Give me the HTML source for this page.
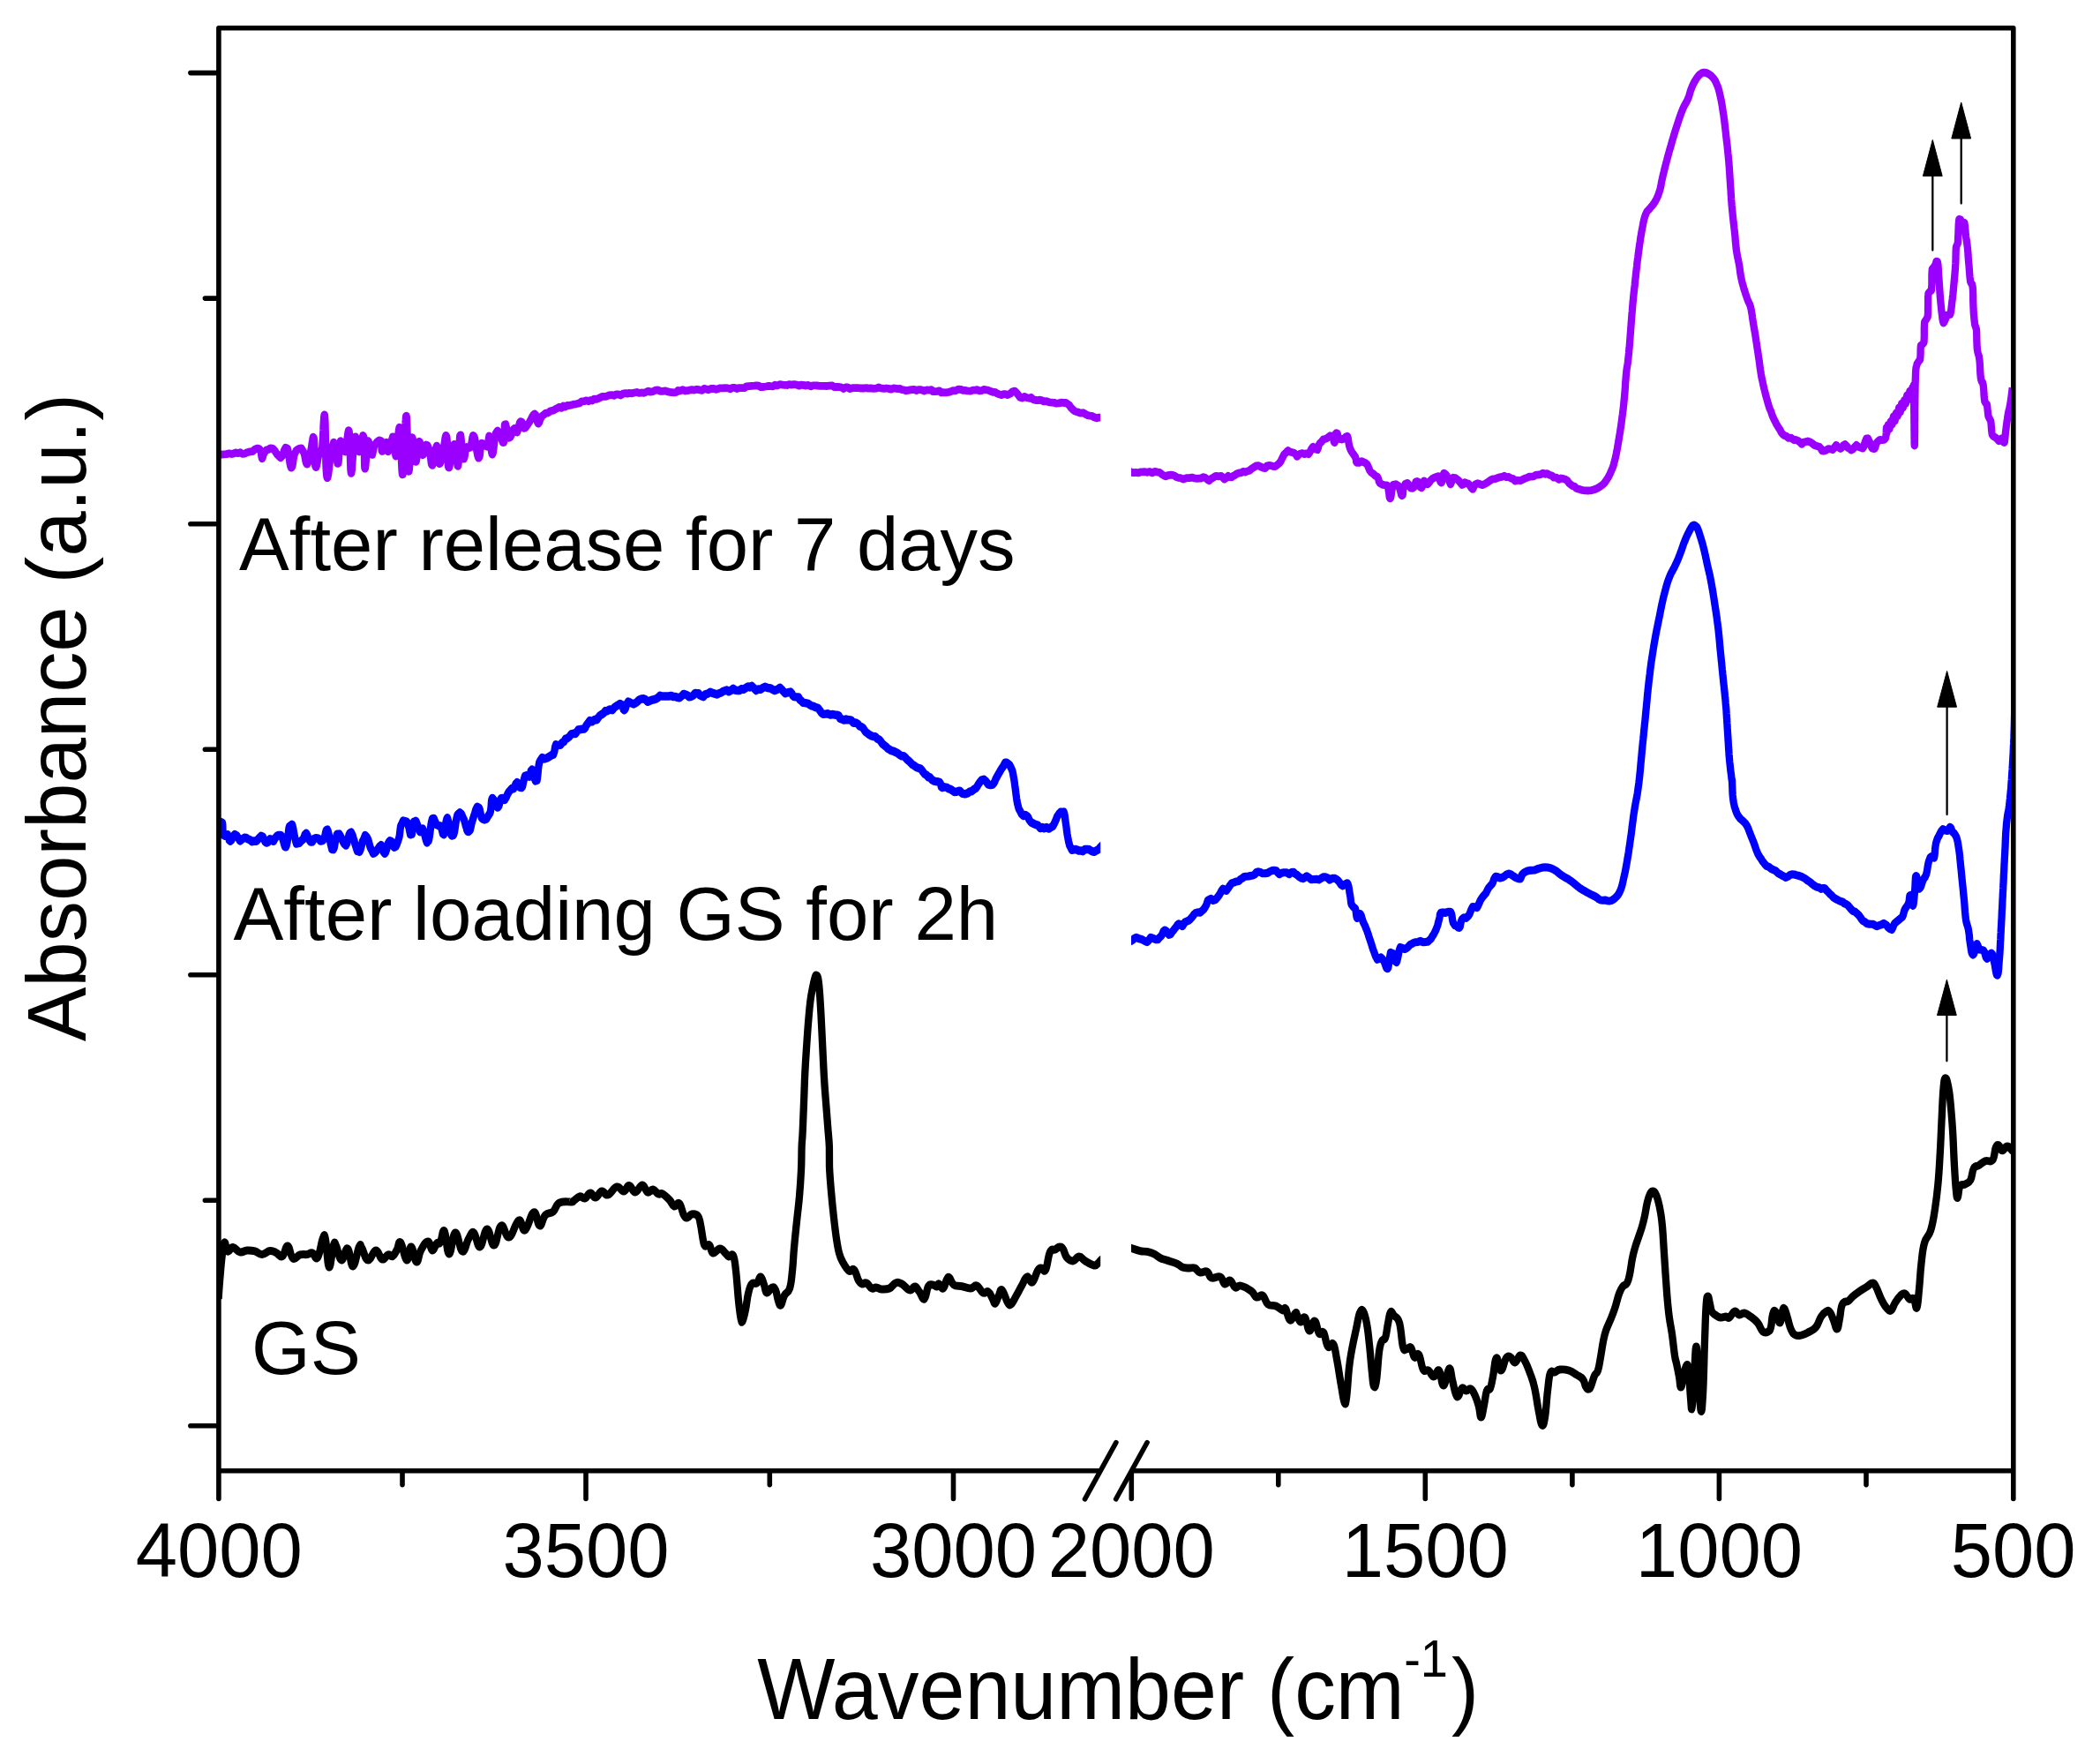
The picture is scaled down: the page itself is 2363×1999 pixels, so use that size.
<!DOCTYPE html>
<html><head><meta charset="utf-8"><title>FTIR spectra</title>
<style>html,body{margin:0;padding:0;background:#fff;overflow:hidden}svg{display:block}</style></head>
<body>
<svg width="2363" height="1999" viewBox="0 0 2363 1999">
<rect width="2363" height="1999" fill="#fff"/>
<defs><clipPath id="clipL"><rect x="247.9" y="31.7" width="999.3" height="1635.1"/></clipPath>
<clipPath id="clipR"><rect x="1282" y="31.7" width="999.8" height="1635.1"/></clipPath></defs>
<g clip-path="url(#clipL)"><path transform="scale(1,1.0602)" d="M248.0,485.08L249.6,485.55L251.4,485.93L253.5,485.64L256.3,485.46L260.0,484.70L262.5,485.27L265.0,484.70L267.4,483.76L269.8,484.51L272.3,483.66L274.7,485.17L277.3,484.98L280.0,483.57L283.3,482.81L286.1,482.63L288.4,480.65L290.4,479.70L292.2,479.23L294.0,479.80L295.6,482.06L296.1,485.17L296.4,487.81L297.0,490.27L297.8,488.57L298.4,485.93L300.0,483.29L302.0,480.93L304.0,480.55L306.3,479.04L309.0,479.23L311.1,481.31L312.9,484.04L314.5,486.21L316.1,487.53L318.0,489.23L319.8,487.53L321.2,483.85L322.4,480.65L323.6,478.48L325.0,478.85L325.8,479.32L326.5,481.78L327.0,484.70L327.5,487.81L328.0,491.11L328.4,494.23L328.9,496.87L329.4,498.75L330.0,500.07L330.8,499.60L331.5,497.53L332.0,494.70L332.5,491.02L333.2,487.53L334.0,484.98L335.7,481.68L337.2,480.36L339.0,479.42L341.6,479.14L344.0,483.19L344.9,485.36L345.5,488.00L346.1,491.02L346.6,493.47L347.2,495.36L348.0,496.30L348.8,495.17L349.4,494.13L350.0,491.96L350.6,488.95L351.3,486.12L352.0,483.00L352.8,479.32L353.4,475.36L354.0,471.78L354.5,468.67L355.0,467.06L355.6,467.91L355.8,469.04L356.0,470.84L356.2,473.10L356.3,475.74L356.4,478.66L356.5,481.87L356.6,485.08L356.7,488.19L356.8,491.21L356.9,493.76L357.1,496.11L357.3,498.00L357.6,498.85L358.2,499.60L358.8,498.00L359.4,495.45L360.0,492.06L360.7,488.57L361.3,485.36L362.0,482.53L363.6,482.91L365.0,479.32L365.3,476.87L365.5,474.14L365.7,470.93L366.0,467.35L366.2,463.57L366.4,459.80L366.5,456.03L366.7,452.54L366.9,449.52L367.1,446.79L367.3,444.90L367.5,443.67L367.8,443.20L368.0,444.24L368.1,445.09L368.2,446.41L368.3,447.92L368.4,449.80L368.5,451.88L368.6,454.24L368.6,456.78L368.7,459.52L368.8,462.35L368.8,465.37L368.9,468.38L368.9,471.59L369.0,474.80L369.0,478.00L369.1,481.21L369.1,484.42L369.2,487.53L369.3,490.55L369.3,493.47L369.4,496.21L369.5,498.85L369.6,501.21L369.8,503.38L369.9,505.26L370.1,506.96L370.2,508.37L370.4,509.41L370.8,510.92L371.3,510.45L371.7,508.75L372.2,506.58L372.6,503.38L373.1,499.89L373.5,495.83L374.0,492.06L374.5,487.91L375.0,484.51L375.5,481.40L376.0,479.32L378.2,472.63L380.0,475.74L380.5,476.87L380.8,479.61L381.2,482.63L381.4,485.83L381.7,488.95L382.0,491.87L382.3,494.23L382.6,495.55L383.0,495.55L383.4,495.45L383.6,493.57L383.9,490.93L384.1,488.00L384.3,484.61L384.6,481.21L384.8,478.00L385.1,475.17L385.5,472.82L386.0,471.31L387.0,472.25L387.9,474.99L388.8,478.95L389.8,482.25L391.0,482.81L391.7,481.49L392.2,478.85L392.8,475.08L393.3,471.21L393.7,467.54L394.2,464.05L394.6,461.59L395.1,459.99L395.6,460.93L395.8,462.35L396.0,463.95L396.2,466.12L396.4,468.67L396.5,471.40L396.6,474.61L396.7,477.82L396.8,481.21L396.8,484.70L396.9,488.10L397.0,491.40L397.1,494.51L397.2,497.34L397.3,499.98L397.4,502.15L397.6,503.75L397.8,505.17L398.0,505.92L398.3,505.64L398.5,504.32L398.8,502.72L399.0,500.36L399.2,497.43L399.4,494.23L399.7,490.83L399.9,487.25L400.1,483.66L400.4,480.08L400.7,476.78L401.0,473.67L401.3,471.21L401.6,469.14L402.0,467.54L402.9,466.69L403.7,469.80L404.4,473.76L405.2,478.10L406.0,481.31L407.0,483.00L407.9,481.97L408.7,478.76L409.4,474.89L410.1,470.74L410.8,467.54L411.4,465.37L412.0,466.40L412.3,466.97L412.5,468.95L412.6,471.50L412.8,474.33L412.8,477.53L412.9,480.93L412.9,484.42L413.0,487.81L413.0,491.11L413.1,494.04L413.1,496.59L413.2,498.66L413.4,500.26L413.6,501.02L413.9,500.83L414.1,499.32L414.4,497.15L414.6,494.42L414.9,491.21L415.1,487.81L415.4,484.32L415.6,480.83L415.9,477.63L416.3,474.80L416.6,473.01L417.0,471.21L417.7,471.78L418.4,474.04L419.0,477.53L419.5,481.78L420.2,485.27L421.0,485.93L421.9,486.12L422.5,483.95L423.1,480.93L423.8,477.72L425.0,475.08L427.5,472.25L429.9,470.55L432.0,471.31L432.4,473.48L432.5,476.21L432.5,479.23L432.6,481.59L433.0,482.44L434.1,481.87L435.4,478.10L436.8,475.17L438.0,472.72L438.7,475.08L438.9,478.66L439.2,482.06L440.0,482.72L440.8,481.68L441.6,478.95L442.5,475.65L443.4,472.06L444.3,469.52L445.1,466.87L446.0,466.87L446.6,468.20L447.0,470.18L447.3,473.10L447.6,476.68L447.8,480.08L448.0,483.38L448.2,485.93L448.6,487.62L449.0,487.34L449.4,486.49L449.7,484.32L450.0,481.49L450.4,478.00L450.7,474.04L451.0,470.18L451.3,466.40L451.6,462.82L451.9,460.08L452.3,457.91L452.6,456.69L453.0,457.16L453.2,458.29L453.4,459.99L453.6,462.06L453.8,464.61L454.0,467.44L454.1,470.74L454.3,474.14L454.4,477.72L454.6,481.40L454.7,485.08L454.8,488.76L455.0,492.34L455.1,495.64L455.3,498.75L455.4,501.49L455.6,503.75L455.8,505.55L456.0,507.05L456.2,507.34L456.4,506.96L456.6,507.05L456.8,505.92L456.9,504.32L457.1,502.53L457.3,500.36L457.4,497.81L457.6,495.08L457.7,492.06L457.9,488.95L458.0,485.55L458.2,482.06L458.3,478.66L458.5,475.08L458.6,471.59L458.8,468.01L458.9,464.71L459.0,461.40L459.2,458.29L459.3,455.37L459.5,452.73L459.6,450.46L459.8,448.39L459.9,446.69L460.1,445.37L460.2,444.71L460.4,445.09L460.6,444.43L460.7,445.09L460.9,446.41L461.0,448.01L461.1,450.09L461.2,452.44L461.3,455.18L461.4,458.20L461.5,461.31L461.6,464.71L461.6,468.20L461.7,471.69L461.8,475.27L461.8,478.85L461.9,482.44L462.0,485.83L462.1,489.04L462.2,492.06L462.3,494.89L462.4,497.43L462.5,499.60L462.7,501.40L462.8,502.72L463.0,503.75L463.3,503.94L463.5,503.38L463.8,502.06L464.0,499.79L464.3,497.15L464.5,493.85L464.8,490.27L465.0,486.59L465.3,482.72L465.5,479.23L465.8,475.84L466.1,472.82L466.4,470.36L466.7,468.57L467.0,467.54L467.4,468.01L467.8,469.23L468.2,471.59L468.5,474.70L468.8,478.19L469.2,481.78L469.5,485.46L469.8,488.76L470.2,491.30L470.6,493.47L471.0,493.38L471.5,493.66L472.0,491.87L472.4,488.95L472.8,485.55L473.2,481.97L473.6,478.29L474.0,475.17L474.5,472.63L475.0,471.78L475.8,472.44L476.4,474.70L477.0,478.19L477.6,482.15L478.2,485.08L479.0,486.30L479.9,485.83L480.7,483.47L481.3,479.89L482.1,476.78L483.0,475.46L484.5,476.02L485.7,478.85L487.0,483.00L487.6,485.74L488.1,488.95L488.4,492.15L488.8,495.17L489.3,496.77L490.0,497.43L490.6,495.83L491.3,493.28L491.9,490.36L492.5,486.87L493.1,483.38L493.7,480.27L494.4,477.91L495.0,476.40L495.6,478.19L496.1,480.46L496.4,483.76L496.7,487.53L497.0,491.02L497.4,493.85L498.0,495.74L498.8,495.45L499.6,493.38L500.3,490.45L501.1,486.68L502.0,483.10L502.7,479.89L503.3,476.21L503.9,472.53L504.4,469.14L504.9,466.59L505.4,465.37L506.0,466.31L506.3,466.97L506.5,468.76L506.7,471.02L506.9,473.57L507.0,476.50L507.1,479.70L507.2,482.91L507.3,486.12L507.5,489.23L507.6,492.15L507.8,494.79L507.9,497.06L508.1,498.66L508.4,499.79L508.9,499.89L509.4,499.13L509.8,496.49L510.3,492.91L510.8,489.32L511.4,485.64L512.0,483.10L513.4,477.72L514.7,474.80L516.0,475.46L516.5,477.06L516.9,479.80L517.2,483.19L517.5,486.87L517.7,490.55L518.0,493.85L518.3,496.40L518.6,497.81L519.0,498.28L519.3,497.06L519.5,495.36L519.7,492.81L519.9,489.89L520.0,486.59L520.2,483.00L520.3,479.51L520.5,475.93L520.7,472.72L520.9,469.89L521.1,467.44L521.3,465.65L521.6,464.99L522.0,464.99L522.3,466.59L522.6,469.33L522.9,472.53L523.2,476.12L523.5,479.89L523.8,483.47L524.2,486.59L524.6,488.95L525.0,490.64L525.7,490.55L526.4,488.76L527.0,485.74L527.5,482.34L528.2,479.04L529.0,477.72L531.0,478.85L533.0,478.38L533.8,477.25L534.4,474.14L534.9,470.84L535.4,467.63L536.1,465.46L537.0,466.03L537.6,467.16L538.2,468.95L538.7,471.78L539.2,474.61L539.7,478.10L540.2,481.21L540.8,484.23L541.3,486.78L541.8,488.38L542.4,489.70L543.1,488.85L543.6,487.62L544.0,484.70L544.3,481.31L544.7,478.19L545.2,475.08L546.0,473.67L548.0,474.33L550.0,476.50L552.0,477.34L552.9,475.36L553.5,472.06L553.9,468.67L554.4,465.93L555.0,466.59L555.4,467.44L555.8,469.89L556.1,473.19L556.4,476.68L556.7,480.17L557.1,483.00L557.5,485.08L558.0,485.83L558.5,484.70L558.9,483.10L559.3,480.65L559.7,477.44L560.1,474.33L560.5,470.84L561.0,467.91L561.5,465.08L562.0,462.91L563.9,460.27L566.0,464.14L567.4,466.21L568.7,469.89L569.9,473.10L571.0,472.91L571.4,471.12L571.6,468.57L571.7,465.46L571.7,462.06L571.8,458.76L571.8,455.84L572.0,453.86L572.4,453.58L573.0,453.48L573.7,455.93L574.3,459.33L575.1,463.20L576.0,465.93L577.0,468.10L578.3,467.35L579.5,465.18L580.7,462.16L581.8,458.95L583.0,457.91L584.7,460.18L586.0,462.25L586.8,460.08L587.6,457.54L588.3,454.24L589.1,451.41L590.0,450.56L591.3,451.03L592.4,454.80L594.0,457.73L595.5,457.25L596.8,455.46L598.3,453.39L600.0,451.12L601.7,448.39L603.2,445.37L604.5,443.39L606.0,442.35L607.1,443.30L607.8,446.12L608.5,448.77L609.1,451.22L610.0,452.82L611.1,451.60L612.0,448.86L614.0,444.99L616.2,443.39L618.5,441.50L621.0,441.41L624.0,439.24L626.7,438.67L628.7,437.82L630.9,436.60L634.0,435.09L636.4,436.03L638.6,433.86L640.7,434.90L642.8,433.30L645.2,433.39L648.0,432.83L650.7,432.07L653.0,431.79L655.0,431.32L657.0,430.75L659.3,429.05L662.0,428.86L664.7,428.02L667.0,428.96L669.0,427.83L671.0,428.30L673.3,426.41L676.0,426.70L678.7,425.66L680.9,424.62L682.8,423.77L684.8,423.87L687.1,423.77L690.0,422.55L693.1,422.17L695.8,422.83L698.3,421.51L700.8,421.60L703.3,422.55L706.0,420.85L709.2,420.28L711.2,420.85L713.0,420.09L716.0,420.47L719.0,419.72L721.7,419.24L724.3,420.09L727.0,419.72L730.0,420.00L733.0,418.77L735.0,418.02L737.0,418.96L740.0,418.49L743.0,416.98L745.7,416.89L748.3,418.21L751.0,418.11L754.0,417.74L757.1,418.77L759.3,419.06L761.3,419.34L764.0,419.53L766.6,419.15L768.5,417.26L770.7,417.92L774.0,416.51L776.7,417.83L779.1,417.55L781.5,416.98L784.0,416.60L786.8,416.98L790.0,416.13L793.1,416.79L795.7,417.17L798.0,415.38L800.3,415.94L802.9,416.70L806.0,415.38L809.1,415.47L811.7,416.23L814.0,415.57L816.3,414.81L818.9,415.00L822.0,414.72L825.1,414.91L827.8,415.75L830.2,414.34L832.5,414.53L835.0,415.47L838.0,414.62L841.3,414.62L843.9,414.72L846.1,412.92L848.7,412.74L852.0,412.45L855.0,412.36L857.5,412.08L859.8,412.36L862.2,413.68L864.9,413.59L868.0,413.11L871.1,412.55L873.7,412.83L876.0,413.02L878.3,411.51L880.9,412.17L884.0,410.94L887.1,411.32L889.7,411.51L892.0,411.70L894.3,410.94L896.9,411.42L900.0,410.94L903.1,411.42L905.6,412.36L907.8,411.32L910.1,411.60L912.7,412.26L916.0,411.60L918.9,413.02L921.5,411.98L923.9,412.08L926.1,412.17L928.5,412.45L931.1,412.55L934.0,412.55L937.4,412.64L940.4,412.26L943.0,411.98L945.4,413.59L947.7,413.59L950.0,413.59L953.2,413.87L956.0,415.47L958.4,414.06L960.7,413.96L963.1,415.57L966.1,414.72L970.0,414.72L972.6,414.62L975.0,415.00L977.3,414.91L979.5,415.00L981.8,414.62L984.3,415.09L987.0,414.91L990.0,415.28L993.0,415.19L995.6,414.06L997.9,414.72L1000.0,415.19L1002.1,415.38L1004.4,415.00L1007.0,415.38L1010.0,416.13L1013.0,415.00L1015.6,415.28L1017.9,415.57L1020.0,415.47L1022.1,416.51L1024.4,416.70L1027.0,417.64L1030.0,416.98L1033.1,416.51L1035.9,416.32L1038.4,417.36L1040.8,416.51L1043.1,416.51L1045.4,417.07L1047.6,417.83L1050.0,416.89L1053.6,416.98L1055.7,416.60L1057.3,418.49L1060.0,418.40L1062.5,418.21L1064.7,417.74L1066.7,419.72L1069.0,419.34L1072.0,419.53L1075.0,419.15L1077.6,418.49L1080.1,417.55L1082.8,417.74L1086.0,416.13L1089.1,416.41L1091.4,417.17L1093.6,417.26L1096.3,417.64L1100.0,417.92L1102.7,417.07L1105.3,417.07L1107.7,416.60L1110.2,417.74L1112.6,417.55L1115.0,416.32L1117.5,416.70L1120.0,417.17L1123.5,418.58L1125.8,419.15L1127.7,419.06L1129.6,420.28L1132.0,421.22L1135.0,422.17L1137.3,421.32L1139.5,421.32L1142.0,422.07L1145.1,420.66L1147.4,418.49L1150.0,417.92L1152.2,419.90L1153.8,421.89L1156.0,424.62L1158.6,425.37L1160.9,423.87L1164.0,425.19L1166.5,425.66L1168.7,424.90L1171.0,426.98L1174.0,427.73L1176.5,427.83L1178.7,427.36L1180.7,428.02L1183.0,429.05L1186.0,428.77L1189.2,430.00L1192.0,430.19L1194.6,430.37L1197.3,431.22L1200.0,430.94L1203.3,430.19L1205.3,430.56L1208.0,430.47L1210.1,431.88L1211.8,433.11L1213.5,435.37L1215.5,437.45L1218.0,439.43L1220.6,440.18L1222.9,440.94L1225.1,441.60L1227.4,441.13L1230.0,442.54L1233.1,444.05L1235.4,444.43L1237.6,444.71L1240.0,445.94L1242.9,446.88L1244.9,446.31L1247.0,446.22L1249.6,446.79L1251.0,447.73" fill="none" stroke="#9900ff" stroke-width="8.3" stroke-linejoin="round" stroke-linecap="butt"/></g>
<g clip-path="url(#clipR)"><path transform="scale(1,1.0602)" d="M1278.0,503.56L1279.3,503.19L1282.0,504.79L1284.4,505.17L1286.8,504.89L1290.0,505.45L1292.5,504.60L1294.5,504.41L1296.8,504.32L1300.0,504.89L1303.0,504.13L1305.9,505.45L1308.6,504.04L1311.3,504.51L1314.0,504.89L1317.2,507.24L1318.9,508.19L1321.0,509.22L1323.7,508.09L1327.0,507.62L1329.1,507.81L1331.2,508.47L1333.2,509.88L1335.5,510.64L1338.0,510.92L1340.9,512.15L1343.2,511.49L1345.4,510.83L1348.0,510.92L1350.9,510.36L1353.1,511.02L1356.0,511.49L1358.8,511.30L1361.3,511.30L1363.7,509.88L1366.0,510.73L1368.6,512.71L1370.4,513.75L1372.3,511.86L1375.0,510.54L1378.0,508.66L1381.1,509.22L1384.0,508.75L1386.2,510.64L1387.6,512.15L1389.8,510.73L1392.0,508.75L1393.7,509.88L1396.0,510.07L1397.7,508.75L1399.3,508.09L1401.3,506.68L1404.0,505.55L1406.5,505.45L1408.7,504.04L1411.0,504.60L1413.3,503.85L1416.0,503.00L1419.0,500.64L1421.3,499.41L1423.5,498.00L1426.0,497.72L1429.2,499.04L1431.6,499.98L1434.0,500.45L1435.8,498.09L1438.0,497.43L1440.3,497.62L1442.6,498.38L1445.1,498.66L1448.0,496.59L1449.9,494.98L1451.4,493.28L1452.7,490.74L1454.0,488.29L1455.4,485.64L1457.0,484.32L1459.7,481.49L1461.7,482.91L1464.0,483.47L1466.5,484.04L1468.5,485.64L1470.0,487.72L1470.0,487.91L1471.5,486.49L1473.5,484.98L1476.0,484.42L1478.5,485.36L1480.7,484.61L1483.0,485.46L1485.0,482.44L1486.3,479.80L1488.0,477.53L1490.7,479.89L1493.0,480.74L1494.0,478.38L1494.5,475.93L1496.0,473.67L1497.8,472.16L1499.8,469.61L1501.8,469.23L1504.0,468.29L1507.5,465.74L1510.0,466.03L1511.2,468.76L1511.8,472.06L1512.4,473.10L1512.9,472.16L1513.2,469.42L1513.4,466.31L1513.8,463.57L1514.4,462.82L1515.5,462.91L1516.5,466.21L1518.0,469.23L1520.5,469.80L1523.0,469.04L1525.2,466.97L1527.0,466.21L1527.7,468.29L1528.1,470.65L1528.5,473.38L1529.1,476.21L1530.0,479.14L1531.5,482.25L1533.1,484.51L1534.6,486.49L1536.0,488.47L1537.0,491.68L1537.2,493.76L1538.0,494.60L1540.2,494.60L1543.0,493.00L1545.1,493.85L1546.9,494.60L1549.0,495.83L1550.4,498.28L1551.4,500.74L1552.5,503.09L1554.0,504.98L1556.5,506.58L1558.8,508.66L1561.0,509.60L1562.3,511.96L1562.8,514.69L1564.0,516.58L1567.0,518.09L1570.0,518.56L1571.8,518.66L1573.0,520.64L1573.6,523.37L1574.1,526.58L1574.5,529.60L1574.9,532.05L1575.6,532.80L1576.2,531.77L1576.6,529.69L1577.0,526.67L1577.5,523.65L1578.1,520.92L1579.0,518.18L1582.0,517.52L1585.0,519.41L1586.1,521.77L1587.0,524.41L1587.7,527.24L1588.3,529.31L1589.0,529.79L1589.7,529.22L1590.0,526.48L1590.3,523.37L1591.0,520.54L1592.7,517.24L1595.0,516.39L1597.0,518.37L1598.9,521.77L1601.0,521.86L1602.5,520.73L1603.6,517.90L1604.6,515.07L1606.0,514.41L1607.5,515.17L1608.7,517.81L1609.8,520.73L1611.0,521.49L1612.2,519.60L1612.9,516.30L1614.0,514.03L1615.8,515.54L1618.0,517.62L1619.9,515.54L1621.8,513.00L1624.0,511.30L1627.2,509.98L1630.0,509.04L1631.5,511.96L1632.5,514.98L1633.6,516.01L1634.4,514.32L1634.9,511.30L1635.5,508.19L1636.4,505.73L1638.7,507.24L1641.0,510.45L1642.2,513.19L1643.0,515.64L1644.0,517.71L1644.9,515.54L1645.5,512.71L1647.0,510.54L1649.3,510.92L1651.7,512.52L1654.0,514.60L1655.8,516.67L1657.0,518.28L1658.3,517.71L1660.0,515.73L1662.0,516.39L1664.0,516.86L1666.0,519.13L1667.7,521.67L1669.0,522.90L1670.1,520.83L1672.0,517.62L1674.5,516.67L1677.1,517.43L1680.0,518.47L1683.2,517.15L1686.0,515.45L1687.9,514.22L1689.5,513.00L1692.0,512.05L1694.5,511.86L1696.8,511.02L1699.3,510.17L1702.0,509.79L1704.9,508.66L1707.1,509.88L1710.0,509.79L1712.7,511.30L1715.0,511.77L1717.3,514.13L1720.0,513.37L1722.9,513.85L1725.1,512.81L1728.0,511.39L1730.7,510.64L1733.0,509.51L1735.3,509.51L1738.0,509.13L1740.9,507.62L1743.1,507.62L1746.0,507.05L1748.7,505.64L1751.0,506.77L1753.3,506.11L1756.0,507.71L1758.9,508.37L1761.1,510.45L1764.0,510.45L1766.7,512.52L1769.0,511.20L1771.3,511.58L1774.0,512.34L1776.4,513.85L1778.2,516.39L1779.8,517.62L1782.0,519.32L1784.2,519.69L1786.0,521.49L1787.8,522.52L1790.0,522.90L1792.8,523.84L1795.2,524.22L1798.0,524.41L1800.8,524.41L1803.2,524.22L1806.0,523.47L1808.9,522.52L1811.3,521.39L1814.0,519.69L1816.3,518.09L1818.0,516.58L1820.0,514.03L1821.4,512.05L1822.6,510.26L1823.7,508.37L1824.8,506.21L1826.0,503.66L1827.1,501.30L1827.8,499.51L1828.5,497.81L1829.1,495.55L1830.0,492.34L1830.6,490.08L1831.1,488.00L1831.6,486.02L1832.0,483.95L1832.4,481.87L1832.9,479.51L1833.4,476.68L1834.0,473.48L1834.5,470.84L1834.9,468.38L1835.3,466.03L1835.7,463.86L1836.1,461.69L1836.4,459.42L1836.8,457.16L1837.2,454.71L1837.6,451.97L1838.0,448.95L1838.4,445.94L1838.8,443.39L1839.1,440.94L1839.4,438.77L1839.7,436.69L1839.9,434.62L1840.2,432.45L1840.4,430.00L1840.7,427.45L1841.0,424.43L1841.3,421.41L1841.5,418.77L1841.7,416.41L1841.9,414.15L1842.0,411.98L1842.1,409.91L1842.3,407.74L1842.5,405.38L1842.7,402.83L1843.0,399.91L1843.3,396.99L1843.6,394.63L1843.9,392.84L1844.2,391.23L1844.5,389.53L1844.8,387.55L1845.1,385.01L1845.5,381.71L1846.0,377.27L1846.2,374.91L1846.5,372.46L1846.7,370.10L1846.9,367.65L1847.1,365.20L1847.3,362.75L1847.5,360.30L1847.7,357.84L1847.9,355.39L1848.1,352.94L1848.3,350.39L1848.5,347.94L1848.7,345.39L1848.9,342.85L1849.1,340.39L1849.3,337.85L1849.5,335.30L1849.8,332.66L1850.0,330.11L1850.3,326.34L1850.6,323.23L1850.9,320.59L1851.1,318.42L1851.3,316.53L1851.5,314.74L1851.7,313.04L1851.9,311.34L1852.1,309.46L1852.4,307.29L1852.7,304.84L1853.0,301.82L1853.3,298.89L1853.7,296.16L1853.9,293.61L1854.2,291.16L1854.5,288.90L1854.8,286.63L1855.1,284.37L1855.3,282.11L1855.6,279.84L1855.9,277.48L1856.3,275.03L1856.6,272.49L1857.0,269.75L1857.5,266.35L1857.9,263.34L1858.3,260.70L1858.7,258.34L1859.0,256.17L1859.3,254.09L1859.7,252.11L1860.1,249.94L1860.5,247.68L1861.0,245.23L1861.7,241.83L1862.2,239.10L1862.7,236.74L1863.2,234.76L1863.7,232.97L1864.3,231.17L1865.0,229.19L1866.6,225.99L1868.1,224.57L1870.0,222.59L1871.6,220.70L1873.0,219.20L1874.4,217.50L1876.0,215.05L1877.3,212.78L1878.3,210.80L1879.2,208.82L1880.0,206.56L1881.0,203.73L1881.7,201.37L1882.2,199.48L1882.5,197.79L1882.8,195.90L1883.3,193.54L1884.0,190.52L1884.6,188.07L1885.2,185.71L1885.8,183.54L1886.3,181.37L1886.9,179.20L1887.5,176.94L1888.2,174.39L1889.0,171.66L1889.8,168.64L1890.5,166.28L1891.1,164.21L1891.7,162.13L1892.3,160.06L1893.1,157.70L1894.0,154.68L1894.8,151.95L1895.5,149.59L1896.2,147.42L1896.8,145.44L1897.5,143.36L1898.2,141.10L1899.0,138.65L1900.0,135.82L1901.0,132.89L1901.9,130.35L1902.7,127.99L1903.5,125.73L1904.3,123.65L1905.1,121.48L1906.0,119.31L1907.0,116.95L1908.5,113.75L1909.7,111.58L1910.8,109.88L1911.8,108.09L1913.0,105.64L1914.1,103.00L1914.8,100.83L1915.4,98.85L1916.0,96.77L1917.0,94.32L1918.3,91.39L1919.4,89.13L1920.6,87.15L1922.0,84.89L1923.8,82.34L1925.3,80.64L1927.0,79.23L1929.0,77.81L1931.0,77.53L1933.4,77.72L1936.0,78.85L1938.6,80.36L1941.0,82.62L1942.5,84.32L1943.6,85.92L1945.0,88.66L1945.9,90.64L1946.7,92.24L1947.3,94.04L1948.1,96.49L1949.0,99.98L1949.5,102.24L1950.0,104.32L1950.5,106.39L1950.9,108.37L1951.3,110.45L1951.7,112.71L1952.1,115.16L1952.5,117.80L1953.0,120.73L1953.5,123.65L1953.8,126.20L1954.2,128.37L1954.4,130.54L1954.7,132.61L1955.0,134.88L1955.3,137.33L1955.6,140.06L1956.0,143.36L1956.3,146.10L1956.6,148.65L1956.9,150.91L1957.2,153.08L1957.5,155.25L1957.7,157.32L1957.9,159.49L1958.2,161.76L1958.4,164.11L1958.7,166.85L1959.0,169.77L1959.3,172.70L1959.5,175.34L1959.7,177.70L1959.9,179.86L1960.0,181.94L1960.2,184.01L1960.3,186.09L1960.4,188.26L1960.6,190.62L1960.8,193.26L1961.0,196.18L1961.2,199.11L1961.4,201.75L1961.6,204.10L1961.7,206.27L1961.8,208.35L1962.0,210.42L1962.1,212.50L1962.3,214.67L1962.5,217.03L1962.7,219.67L1963.0,222.59L1963.3,225.61L1963.6,228.25L1963.8,230.80L1964.1,233.06L1964.4,235.32L1964.6,237.49L1964.9,239.66L1965.2,241.83L1965.4,244.00L1965.7,246.45L1966.0,249.00L1966.4,252.30L1966.6,255.04L1966.8,257.30L1967.0,259.38L1967.2,261.26L1967.4,263.15L1967.6,265.32L1968.0,267.86L1968.5,271.07L1969.0,273.52L1969.4,275.60L1969.9,277.58L1970.4,279.94L1971.0,282.95L1971.5,285.69L1971.8,287.95L1972.1,290.12L1972.4,292.20L1972.8,294.37L1973.3,296.91L1974.0,299.93L1974.7,302.76L1975.5,305.31L1976.2,307.67L1976.9,309.93L1977.7,312.19L1978.4,314.36L1979.2,316.53L1980.0,318.80L1981.3,322.10L1982.2,323.70L1983.0,325.21L1984.0,328.23L1984.6,330.59L1985.0,332.85L1985.4,335.02L1985.8,337.28L1986.1,339.64L1986.5,342.28L1987.0,345.20L1987.5,348.03L1987.9,350.39L1988.3,352.56L1988.7,354.54L1989.1,356.71L1989.5,359.16L1990.0,362.18L1990.4,364.82L1990.8,367.09L1991.1,369.07L1991.4,371.05L1991.7,373.03L1992.1,375.20L1992.5,377.84L1993.0,381.05L1993.4,383.69L1993.8,386.14L1994.1,388.40L1994.4,390.57L1994.7,392.74L1995.0,394.91L1995.4,397.17L1995.8,399.72L1996.3,402.46L1997.0,405.57L1997.7,408.49L1998.3,411.32L1999.0,413.96L1999.6,416.51L2000.3,418.96L2000.9,421.32L2001.5,423.58L2002.2,425.75L2002.8,427.92L2003.4,430.00L2004.0,431.98L2005.5,436.50L2006.1,437.73L2007.0,439.52L2007.9,442.07L2008.6,444.14L2010.0,447.07L2011.1,449.24L2012.2,451.22L2013.3,453.29L2014.6,455.37L2016.0,457.54L2017.6,459.90L2018.8,462.25L2020.1,463.86L2022.0,465.37L2024.7,466.40L2027.1,468.20L2030.0,468.01L2033.0,470.27L2035.5,470.18L2038.0,471.21L2040.3,472.82L2042.0,474.80L2043.8,472.82L2046.0,472.25L2048.8,471.59L2052.0,472.72L2054.2,474.14L2056.1,475.65L2058.0,476.40L2060.1,477.06L2062.0,477.53L2063.7,479.51L2065.2,481.97L2067.0,482.15L2069.5,481.31L2072.0,479.70L2074.6,479.89L2077.0,480.74L2079.0,478.48L2081.0,475.74L2083.4,478.19L2086.0,479.61L2087.7,478.19L2089.0,476.21L2091.0,474.99L2092.8,476.59L2094.4,478.66L2096.1,479.51L2098.0,481.02L2100.2,479.89L2101.8,477.91L2104.0,475.74L2106.6,477.72L2108.8,478.38L2111.0,479.23L2112.5,477.16L2113.1,474.33L2114.0,471.78L2115.3,468.76L2117.0,468.57L2118.1,470.93L2119.3,473.19L2120.4,476.68L2121.6,479.04L2123.0,479.61L2124.5,479.80L2125.6,477.06L2126.6,473.85L2128.0,471.97L2130.6,469.99L2133.0,470.27L2135.3,470.08L2137.0,468.10L2137.5,465.55L2137.7,462.91L2137.8,460.08L2137.9,457.82L2138.0,456.97L2138.1,457.73L2138.2,461.03L2138.4,462.82L2138.7,461.12L2139.1,458.39L2139.4,455.75L2139.9,454.05L2140.6,456.22L2141.4,458.67L2141.8,456.50L2142.2,453.76L2142.6,451.12L2143.0,450.18L2143.8,451.50L2144.5,453.76L2144.9,452.07L2145.2,449.43L2145.6,446.69L2146.0,444.99L2146.8,447.35L2147.6,449.90L2148.0,447.73L2148.4,445.09L2148.7,442.16L2149.1,441.22L2149.8,442.73L2150.6,444.80L2151.0,443.39L2151.4,440.75L2151.8,437.92L2152.2,435.66L2153.0,438.30L2153.7,440.56L2154.1,438.86L2154.4,436.03L2154.8,433.30L2155.2,431.32L2155.9,433.96L2156.7,435.94L2157.1,434.43L2157.5,431.79L2157.9,429.15L2158.3,427.64L2159.1,429.71L2159.8,431.51L2160.2,430.19L2160.5,427.26L2160.9,424.53L2161.3,422.36L2162.1,425.19L2162.9,427.07L2163.3,425.66L2163.7,422.92L2164.0,420.38L2164.4,418.02L2165.1,420.85L2165.9,423.58L2166.3,421.13L2166.7,418.49L2167.1,415.85L2167.5,414.06L2168.4,416.23L2169.0,418.40L2169.0,411.32L2169.0,413.68L2169.0,415.28L2169.0,417.26L2169.1,419.43L2169.1,421.89L2169.1,424.53L2169.1,427.45L2169.2,430.47L2169.2,433.58L2169.2,436.88L2169.2,440.18L2169.3,443.48L2169.3,446.79L2169.3,450.18L2169.4,453.39L2169.4,456.59L2169.4,459.61L2169.5,462.44L2169.5,465.18L2169.5,467.63L2169.6,469.89L2169.6,471.78L2169.6,473.48L2169.7,474.80L2169.7,475.74L2169.8,476.12L2169.8,476.31L2169.8,476.02L2169.9,475.36L2169.9,474.42L2169.9,473.19L2170.0,471.59L2170.0,469.80L2170.0,467.82L2170.0,465.55L2170.1,463.20L2170.1,460.56L2170.1,457.82L2170.1,454.90L2170.1,451.97L2170.2,448.86L2170.2,445.75L2170.2,442.54L2170.2,439.33L2170.2,436.13L2170.3,432.92L2170.3,429.71L2170.3,426.60L2170.4,423.58L2170.4,420.66L2170.5,417.83L2170.5,415.09L2170.6,412.55L2170.6,410.28L2170.7,408.11L2170.9,402.08L2171.1,397.83L2171.3,395.10L2171.5,393.31L2171.7,392.36L2172.0,391.42L2172.3,390.38L2172.7,388.78L2174.5,386.23L2176.1,384.25L2176.4,381.71L2176.5,379.25L2176.6,376.61L2176.6,374.07L2176.7,371.71L2177.0,369.26L2178.7,368.12L2180.4,366.24L2180.6,364.26L2180.7,361.90L2180.8,359.35L2180.8,356.62L2180.8,353.88L2180.8,351.05L2180.9,348.51L2181.0,345.96L2181.2,344.07L2182.9,341.62L2184.6,338.79L2184.8,337.00L2185.0,334.45L2185.0,331.81L2185.0,328.98L2185.1,326.15L2185.1,323.23L2185.1,320.49L2185.1,317.85L2185.3,315.49L2185.5,313.51L2187.2,311.53L2188.9,310.50L2189.1,308.14L2189.3,305.78L2189.4,303.14L2189.4,300.31L2189.4,297.48L2189.4,294.74L2189.5,292.10L2189.6,289.84L2189.8,287.67L2192.3,284.84L2193.5,282.58L2194.6,279.28L2195.7,279.65L2196.1,281.16L2196.4,282.95L2196.6,285.12L2196.8,287.58L2196.9,290.59L2197.1,293.80L2197.4,297.48L2197.6,300.12L2197.8,302.67L2198.0,304.93L2198.1,307.19L2198.3,309.36L2198.4,311.63L2198.6,313.99L2198.8,316.72L2199.1,319.83L2199.4,322.95L2199.7,325.96L2200.0,328.70L2200.3,331.43L2200.6,333.79L2200.9,336.15L2201.2,338.41L2201.4,340.39L2201.7,342.19L2202.5,345.20L2203.4,344.36L2204.4,342.09L2205.6,339.45L2206.8,336.81L2210.2,336.15L2210.7,334.26L2211.1,332.28L2211.4,330.21L2211.7,327.85L2212.0,325.40L2212.3,322.66L2212.7,319.83L2213.0,317.29L2213.3,315.02L2213.5,312.95L2213.7,311.16L2213.9,309.18L2214.1,306.72L2214.4,303.80L2214.7,301.16L2214.9,298.89L2215.1,296.63L2215.3,294.56L2215.5,292.48L2215.7,290.12L2215.9,287.58L2216.1,284.56L2216.3,281.73L2216.4,278.99L2216.5,276.45L2216.5,273.99L2216.6,271.64L2216.6,269.47L2216.7,267.39L2216.8,265.41L2217.0,263.81L2218.7,260.32L2218.9,258.53L2219.0,256.17L2219.1,253.72L2219.3,250.98L2219.4,248.15L2219.5,245.42L2219.6,242.68L2219.7,240.13L2219.9,237.78L2220.1,235.89L2220.4,234.19L2222.0,234.76L2223.8,239.66L2226.3,238.06L2226.7,240.04L2227.0,242.02L2227.2,244.38L2227.4,246.92L2227.7,249.66L2228.0,252.40L2228.4,255.04L2228.7,256.92L2229.0,258.43L2229.3,260.41L2229.7,263.62L2230.0,265.98L2230.2,268.24L2230.4,270.60L2230.5,272.77L2230.7,275.03L2230.9,277.58L2231.1,280.12L2231.4,282.95L2231.7,286.16L2231.9,288.99L2232.1,291.63L2232.3,293.99L2232.5,296.16L2232.8,298.42L2233.1,300.78L2234.0,302.86L2234.9,303.42L2235.7,307.01L2235.9,309.08L2236.0,311.34L2236.1,313.70L2236.2,316.06L2236.2,318.61L2236.2,321.15L2236.3,323.89L2236.4,326.62L2236.5,329.45L2236.7,332.85L2236.9,335.96L2237.2,338.51L2237.4,340.87L2237.6,342.94L2237.9,345.02L2238.2,347.28L2239.1,349.45L2239.9,352.00L2240.1,353.79L2240.2,355.96L2240.2,358.22L2240.3,360.58L2240.3,363.03L2240.4,365.48L2240.5,367.94L2240.6,370.39L2240.8,372.84L2241.3,375.86L2241.7,377.46L2242.2,378.97L2242.8,380.67L2243.3,383.97L2243.6,386.33L2243.8,388.78L2243.9,391.14L2244.1,393.59L2244.2,396.04L2244.3,398.40L2244.5,400.66L2244.7,402.83L2245.0,405.00L2245.9,407.83L2246.7,408.30L2247.6,411.13L2247.9,413.68L2248.2,416.32L2248.4,419.06L2248.5,421.79L2248.7,424.43L2249.0,426.88L2249.3,428.96L2250.6,431.22L2251.8,432.07L2252.2,434.43L2252.5,437.16L2252.8,439.90L2253.1,442.64L2253.5,445.09L2254.8,447.54L2256.1,449.80L2256.5,452.07L2256.7,454.61L2256.9,457.16L2257.1,459.61L2257.4,462.25L2257.8,464.52L2259.3,466.50L2261.2,467.35L2263.3,468.95L2265.5,471.40L2268.9,468.38L2270.3,472.35L2271.4,473.01L2271.8,472.63L2272.1,470.55L2272.4,467.91L2272.7,464.71L2273.1,461.03L2273.5,458.39L2273.8,455.65L2274.2,453.20L2274.5,450.75L2274.9,448.48L2275.3,445.84L2275.7,443.39L2276.3,440.47L2276.7,438.67L2277.2,437.16L2277.6,435.00L2278.2,432.07L2278.7,429.43L2279.1,426.60L2279.5,423.87L2279.9,421.04L2280.2,418.68L2280.5,416.41L2280.8,414.53" fill="none" stroke="#9900ff" stroke-width="8.3" stroke-linejoin="round" stroke-linecap="butt"/></g>
<g clip-path="url(#clipL)"><path transform="scale(1,1.1446)" d="M249.0,813.31L252.0,814.54L252.3,816.20L252.4,818.90L252.5,821.70L252.6,824.41L253.0,826.68L255.3,827.64L258.0,826.33L259.2,829.39L259.8,831.75L261.0,832.71L262.5,831.49L264.0,828.51L266.0,826.16L268.1,827.12L269.9,829.48L272.0,832.53L274.1,830.96L277.0,829.39L279.1,829.56L281.2,830.87L283.3,831.49L285.6,833.23L288.0,832.53L290.6,832.80L292.4,830.96L294.0,829.30L296.0,827.55L297.9,828.43L299.3,830.96L300.6,833.49L302.0,834.37L304.2,833.49L306.0,830.70L307.7,831.22L310.0,832.80L311.9,829.74L313.8,827.73L315.8,826.85L318.0,826.85L319.3,827.82L320.4,830.52L321.3,833.32L322.2,836.20L323.0,838.47L324.0,838.56L324.7,836.99L325.2,835.07L325.7,833.06L326.1,830.26L326.4,827.47L326.8,824.76L327.1,822.05L327.5,819.60L328.0,818.21L331.0,816.28L331.6,817.94L332.2,819.95L332.7,822.49L333.3,825.37L333.8,827.90L334.5,830.44L335.2,833.06L336.0,835.24L339.0,834.72L342.0,831.92L343.5,831.14L344.6,828.78L345.6,826.16L347.0,825.02L348.4,827.03L349.4,829.65L350.5,831.57L352.0,833.41L353.9,833.41L355.6,830.61L358.0,829.74L360.8,830.17L363.3,832.62L366.0,832.01L367.4,830.26L368.3,827.55L369.0,824.32L369.8,821.79L371.0,821.35L371.8,823.19L372.4,825.11L373.1,827.90L373.7,830.61L374.3,833.49L374.9,836.20L375.6,838.65L376.2,840.83L377.0,840.57L377.9,840.92L378.7,839.44L379.3,836.81L379.9,833.67L380.5,830.87L381.2,828.25L382.0,825.89L384.5,825.72L387.0,829.56L388.7,833.15L390.1,835.33L392.0,836.99L393.1,835.24L393.9,832.62L394.8,829.39L395.6,826.33L396.7,824.58L398.0,824.06L399.0,825.98L399.9,827.73L400.7,830.17L401.6,832.71L402.4,835.68L403.3,838.21L404.1,840.40L405.0,842.67L406.0,842.58L407.3,843.45L408.4,841.45L409.3,838.91L410.2,835.42L411.0,832.62L412.0,831.40L413.9,826.94L416.0,829.04L417.0,830.87L417.8,832.97L418.7,835.85L419.5,838.56L420.5,840.57L421.6,842.14L423.0,845.03L425.5,843.72L427.7,841.18L429.9,838.30L432.0,836.64L433.8,840.13L434.6,843.45L436.0,845.03L437.0,843.98L438.0,841.18L438.9,838.65L439.9,835.07L440.9,833.41L442.0,832.36L443.5,833.06L444.6,834.46L445.6,837.60L447.0,838.91L448.5,838.04L449.7,836.03L450.8,833.23L452.0,830.26L452.7,827.73L453.1,825.02L453.4,822.66L453.7,820.21L454.2,817.68L455.0,816.28L456.9,812.53L458.8,812.96L461.0,813.66L462.1,814.89L462.9,817.59L463.7,820.65L464.4,823.45L465.1,826.33L466.0,825.81L466.8,825.81L467.4,822.84L467.9,819.69L468.4,816.46L469.1,813.66L470.0,813.66L471.3,812.79L472.5,815.41L473.7,818.12L474.8,820.74L476.0,823.53L477.5,821.18L479.0,820.39L480.0,822.49L480.9,825.02L481.8,828.25L482.8,831.66L483.9,834.28L485.0,832.45L485.7,832.45L486.2,830.96L486.7,828.51L487.2,825.81L487.6,822.75L488.0,819.87L488.4,816.72L488.9,814.27L489.4,812.44L490.0,810.52L491.8,810.34L493.3,813.84L495.0,816.63L497.1,817.51L499.0,817.77L500.1,818.99L501.0,822.31L501.9,825.46L503.0,826.24L503.7,824.58L504.2,822.05L504.6,819.17L505.1,816.11L505.6,813.31L506.2,811.13L507.0,809.73L507.8,812.09L508.5,814.10L509.2,817.07L509.8,820.04L510.5,823.53L511.3,826.42L512.1,827.38L513.0,827.03L513.7,827.03L514.4,825.63L515.0,823.71L515.5,821.09L516.0,818.12L516.5,814.97L517.0,812.18L517.6,809.56L518.3,807.02L519.0,806.24L521.1,804.58L522.9,805.80L525.0,809.99L526.0,811.65L526.9,814.27L527.7,817.24L528.5,819.17L529.2,821.79L530.1,823.19L531.0,823.36L532.0,822.66L532.8,821.79L533.5,819.34L534.2,816.46L535.0,813.57L536.0,810.95L537.1,807.63L538.1,805.36L539.0,802.22L539.9,800.47L540.9,798.81L542.0,799.51L543.0,799.86L543.7,801.52L544.3,803.96L545.0,806.85L545.8,809.73L547.0,810.78L549.1,811.57L551.2,810.78L553.1,807.98L555.0,805.45L555.8,803.70L556.3,800.91L556.6,798.37L556.8,795.66L557.0,793.31L557.3,791.73L558.0,790.16L559.5,791.65L560.9,794.88L562.4,797.32L564.0,799.42L565.1,798.37L565.8,796.71L566.5,794.09L567.1,791.73L568.0,790.42L569.8,790.33L572.0,791.91L573.2,790.16L574.4,787.98L575.6,785.62L576.8,783.87L578.0,782.73L580.2,780.55L582.0,780.81L583.4,778.45L584.5,776.09L586.0,774.70L587.7,775.92L589.3,779.59L591.0,779.76L592.0,779.06L592.7,776.27L593.3,773.73L594.0,771.29L595.0,768.23L597.6,767.53L600.0,769.02L601.2,765.70L601.8,763.08L603.0,761.94L604.0,764.74L604.9,767.36L605.9,771.03L606.9,773.12L608.0,772.51L608.6,772.51L609.0,770.59L609.3,768.32L609.6,765.70L609.9,762.99L610.2,760.28L610.7,757.31L611.2,754.95L612.0,753.47L614.5,750.06L617.1,751.28L620.0,750.49L622.8,749.01L624.9,747.79L627.0,747.17L628.1,744.73L628.7,742.02L629.1,739.57L630.0,737.30L632.4,737.91L635.0,737.65L636.9,735.47L639.0,734.42L640.9,731.45L642.7,731.10L645.0,729.61L647.5,726.82L649.7,726.29L652.0,726.47L654.0,724.28L655.3,722.54L657.0,722.27L659.6,721.93L662.0,721.66L663.3,720.61L664.2,718.43L666.0,716.42L668.5,713.36L671.0,714.50L674.0,712.49L676.3,712.66L678.2,710.22L680.0,708.30L682.0,707.33L684.3,705.94L686.0,703.84L688.0,704.01L691.0,702.44L694.0,703.05L696.2,700.52L698.0,699.38L700.0,698.34L702.8,696.76L705.0,697.81L706.1,700.35L706.6,702.44L707.6,703.05L708.6,701.92L709.5,699.38L710.6,696.76L712.0,694.67L714.6,695.80L718.0,697.11L720.3,696.06L722.4,694.58L724.6,692.74L727.0,691.96L729.6,691.78L731.5,692.57L734.0,694.84L736.8,693.71L739.3,692.92L742.0,692.39L744.1,691.70L745.6,690.82L748.0,688.64L750.4,689.34L752.5,689.42L754.9,689.34L758.0,689.34L760.7,688.81L763.1,689.86L765.4,689.69L767.6,690.47L770.0,690.82L773.0,688.81L774.8,687.07L777.0,687.59L779.2,688.55L780.8,689.95L783.0,689.77L785.5,688.64L787.7,686.28L790.0,686.54L791.9,686.54L793.1,688.29L795.0,689.07L797.2,689.86L799.3,687.50L802.0,686.89L804.9,685.14L807.4,686.10L810.0,686.80L812.7,687.50L815.0,686.45L817.1,685.84L818.9,684.79L821.0,684.01L823.6,683.13L826.0,684.79L828.5,683.57L831.0,681.74L833.2,683.22L836.0,683.75L838.2,683.75L840.3,682.09L842.6,682.52L845.0,681.21L847.8,679.64L849.8,680.51L852.0,679.20L854.0,680.86L857.0,683.66L859.4,682.26L862.0,682.70L864.6,680.95L867.3,679.99L870.0,681.04L873.4,681.47L875.6,682.70L878.0,683.66L881.2,682.61L884.0,680.86L886.1,682.61L887.9,684.62L890.0,686.54L893.2,685.58L896.0,684.97L897.6,686.80L898.6,688.81L900.0,689.77L902.4,690.12L905.0,690.21L906.7,692.92L908.1,693.71L910.0,695.63L912.9,695.98L916.0,696.59L918.2,698.07L920.0,698.86L922.0,699.30L924.5,700.43L927.0,701.04L929.1,703.23L930.9,705.67L933.0,707.07L935.5,706.90L938.0,706.64L941.0,707.68L944.0,707.25L946.6,707.86L949.0,707.95L950.6,708.38L951.9,711.27L954.0,711.88L956.6,712.93L959.0,712.05L962.0,712.75L964.8,713.19L967.2,715.72L970.0,715.63L972.3,716.77L974.2,718.87L976.0,719.57L978.0,720.53L979.9,723.15L981.0,724.55L983.0,725.94L985.2,727.43L987.3,728.48L989.5,729.00L992.0,729.26L994.4,731.45L996.2,732.06L998.0,733.81L1000.0,736.34L1002.3,738.00L1004.0,739.14L1006.0,740.97L1008.0,741.93L1009.7,742.98L1012.0,743.51L1014.7,744.55L1017.1,745.51L1020.0,747.61L1022.2,748.57L1024.0,748.49L1025.8,749.71L1028.0,751.98L1030.3,753.55L1032.1,755.13L1033.9,756.87L1036.0,757.92L1038.7,759.67L1040.8,760.45L1043.0,760.89L1044.8,762.46L1046.0,764.12L1048.0,766.40L1050.1,767.36L1052.1,769.54L1054.0,769.54L1056.0,771.90L1058.2,773.12L1060.0,773.65L1062.6,773.82L1065.0,774.61L1066.2,776.44L1066.8,779.15L1068.0,779.76L1070.3,779.15L1073.0,779.59L1075.1,780.99L1076.9,781.25L1079.0,782.38L1081.7,784.04L1084.0,783.87L1086.0,783.26L1088.0,783.00L1090.3,785.44L1093.0,786.05L1095.0,785.79L1096.7,785.35L1099.0,783.78L1101.5,783.26L1103.8,781.51L1106.0,780.37L1107.7,778.37L1108.6,776.79L1110.0,774.96L1112.4,772.42L1115.0,771.64L1117.5,773.65L1120.0,776.62L1122.5,777.23L1125.0,776.71L1126.3,775.31L1127.3,773.91L1128.4,771.38L1130.0,768.75L1131.5,766.40L1132.9,764.39L1134.3,762.20L1135.6,760.37L1137.0,758.79L1139.2,755.13L1141.0,755.13L1142.8,756.35L1144.4,757.57L1146.0,760.37L1146.9,762.20L1147.5,763.69L1148.0,765.78L1148.4,767.88L1149.0,770.50L1149.5,773.12L1149.9,775.57L1150.2,777.75L1150.6,780.11L1151.0,782.82L1151.4,785.79L1151.8,788.24L1152.1,790.42L1152.5,792.69L1153.0,795.14L1153.7,797.50L1154.3,799.68L1155.0,801.26L1156.0,802.74L1157.9,806.06L1160.0,807.72L1161.9,806.76L1164.0,807.98L1165.3,809.21L1166.4,811.57L1167.6,813.14L1169.0,814.36L1171.5,815.50L1174.0,816.37L1176.3,817.16L1179.0,819.95L1181.4,818.99L1183.6,820.21L1186.0,819.08L1188.7,820.39L1191.0,819.17L1193.2,818.03L1195.0,815.06L1196.1,812.96L1196.9,811.39L1198.0,808.59L1200.0,805.97L1202.0,804.05L1205.6,803.88L1206.3,805.62L1206.7,807.55L1207.1,810.17L1207.5,813.05L1208.0,815.85L1208.5,818.90L1208.8,821.09L1209.1,823.19L1209.5,825.63L1210.0,828.25L1210.6,830.96L1211.1,833.32L1211.6,834.98L1212.2,837.08L1213.0,838.39L1214.9,841.62L1217.0,841.27L1219.0,840.92L1221.0,841.45L1222.8,842.32L1225.0,842.32L1227.3,842.76L1229.6,840.83L1232.0,840.83L1234.6,841.18L1237.0,842.49L1240.1,843.37L1243.0,841.88L1245.2,840.92L1247.0,838.82L1249.3,836.90L1251.0,835.68" fill="none" stroke="#0000ff" stroke-width="8.3" stroke-linejoin="round" stroke-linecap="butt"/></g>
<g clip-path="url(#clipR)"><path transform="scale(1,1.0964)" d="M1278.0,974.84L1279.5,973.38L1282.0,972.56L1283.9,971.46L1285.8,969.73L1288.0,968.91L1291.0,970.19L1294.0,970.92L1297.2,972.56L1300.0,973.75L1302.0,971.74L1304.0,969.00L1306.8,969.91L1310.0,971.01L1312.2,971.19L1314.1,969.00L1316.0,967.45L1317.6,964.99L1318.6,962.44L1320.0,961.34L1321.7,962.07L1323.2,964.53L1325.0,966.27L1326.7,965.54L1328.1,963.53L1330.0,961.61L1331.6,959.52L1333.1,957.87L1334.5,955.78L1336.0,954.77L1338.2,955.78L1340.0,957.42L1341.4,955.32L1343.0,953.13L1345.2,952.22L1348.0,951.03L1349.8,949.12L1351.5,947.48L1353.2,945.20L1355.0,943.65L1357.6,942.92L1360.0,943.37L1362.1,941.55L1364.0,940.09L1366.0,937.35L1367.3,935.25L1368.1,932.88L1368.9,930.69L1370.0,929.96L1372.4,928.87L1375.0,930.79L1377.4,930.06L1380.0,927.23L1381.6,925.31L1383.1,923.03L1384.5,920.57L1386.0,918.56L1388.0,919.57L1390.0,920.57L1391.4,918.75L1392.7,917.01L1394.1,915.01L1396.0,912.91L1398.7,912.09L1401.1,911.08L1404.0,910.63L1406.2,908.53L1408.0,907.80L1409.8,906.16L1412.0,905.89L1414.9,905.70L1417.3,905.25L1420.0,904.88L1422.2,903.61L1423.8,901.69L1426.0,900.96L1428.6,901.60L1430.9,902.78L1434.0,902.78L1436.7,902.24L1439.2,900.78L1441.5,899.87L1444.0,899.59L1446.6,899.96L1448.2,902.05L1450.0,903.51L1452.5,902.24L1455.0,901.87L1458.0,901.78L1461.0,903.61L1463.7,901.69L1466.0,901.33L1467.8,903.15L1470.0,904.24L1472.3,906.16L1474.7,907.53L1477.0,908.17L1479.2,906.80L1481.0,905.52L1483.3,906.89L1486.0,908.99L1488.6,908.90L1492.0,908.71L1494.6,909.26L1497.1,907.98L1499.6,906.52L1502.0,906.52L1504.8,907.35L1507.0,909.35L1510.0,907.71L1513.0,907.89L1514.9,908.90L1516.4,910.08L1518.0,911.91L1520.0,914.55L1522.0,915.55L1524.6,913.82L1527.0,912.73L1527.9,914.64L1528.5,916.56L1529.0,919.02L1529.4,921.94L1530.0,924.95L1530.5,927.59L1530.8,929.96L1531.0,932.06L1531.4,934.07L1532.0,935.44L1534.0,937.72L1536.0,939.09L1536.7,941.82L1537.0,944.56L1537.4,947.02L1538.0,948.85L1539.7,947.20L1541.6,944.56L1542.5,945.84L1543.3,948.30L1544.0,950.58L1545.0,953.13L1546.1,955.14L1547.0,956.69L1547.9,959.06L1549.0,961.34L1549.9,963.80L1550.7,965.72L1551.3,967.73L1552.1,969.82L1553.0,972.19L1553.9,974.75L1554.7,976.94L1555.3,979.04L1556.1,981.13L1557.0,983.32L1558.1,986.15L1559.0,988.34L1559.9,989.89L1561.0,991.71L1563.0,990.98L1565.0,989.62L1567.0,991.35L1569.0,994.45L1570.3,997.82L1571.4,1000.74L1572.6,1001.20L1573.2,1000.20L1573.7,998.01L1574.1,995.18L1574.6,992.35L1575.0,989.43L1575.5,986.97L1576.0,984.42L1579.0,985.69L1579.9,988.06L1580.7,991.44L1581.5,993.81L1582.6,994.72L1583.4,992.90L1584.1,990.35L1584.7,987.34L1585.3,984.23L1586.1,981.41L1587.0,979.13L1589.4,979.86L1592.0,981.13L1594.0,980.22L1595.8,978.85L1598.0,976.57L1600.1,975.57L1601.9,974.57L1604.0,973.84L1607.0,973.56L1610.0,972.65L1613.0,973.84L1616.0,973.56L1618.1,973.47L1619.9,971.74L1622.0,970.01L1623.4,967.63L1624.7,965.99L1625.8,963.99L1626.9,962.07L1628.0,959.61L1629.1,956.87L1629.8,954.59L1630.3,952.58L1631.0,950.49L1631.7,947.29L1632.0,945.11L1633.0,943.28L1635.2,943.01L1638.0,943.46L1641.2,942.37L1644.0,942.37L1644.9,944.19L1645.5,946.47L1645.9,949.12L1646.3,951.67L1647.0,953.86L1649.0,956.60L1651.0,956.96L1652.6,958.60L1654.0,958.97L1654.7,957.87L1655.2,955.50L1655.8,952.77L1657.0,949.94L1659.2,948.48L1661.5,948.85L1664.0,946.93L1665.6,944.65L1666.7,941.73L1667.7,939.63L1669.0,937.26L1671.5,937.35L1674.0,938.17L1675.4,935.62L1676.5,933.43L1677.6,930.79L1679.0,928.78L1680.9,926.41L1682.4,924.86L1684.0,923.31L1685.2,920.94L1685.9,919.57L1687.0,917.83L1688.9,915.74L1691.0,913.73L1692.1,911.72L1692.9,909.35L1693.8,907.44L1695.0,905.89L1697.4,906.43L1700.0,907.53L1702.5,906.98L1705.0,905.70L1707.3,903.88L1710.0,902.97L1712.3,903.70L1714.5,905.16L1717.0,906.62L1720.4,908.17L1723.0,908.44L1724.0,906.62L1725.0,903.88L1726.7,902.33L1728.5,901.23L1731.0,900.23L1733.7,899.68L1736.2,899.59L1739.0,899.32L1741.5,898.59L1743.5,897.77L1746.0,897.13L1748.7,896.58L1751.1,896.40L1754.0,896.58L1756.8,897.13L1759.2,897.95L1762.0,899.32L1764.2,900.60L1765.8,901.87L1767.6,903.15L1770.0,904.79L1772.6,906.25L1774.8,907.35L1777.2,908.53L1780.0,910.26L1782.3,911.81L1784.1,913.27L1785.9,914.55L1787.7,916.01L1790.0,917.56L1792.8,919.29L1795.2,920.57L1797.4,921.76L1800.0,923.03L1803.1,924.49L1805.4,925.50L1808.0,926.68L1810.4,928.14L1812.1,929.42L1814.0,930.33L1816.6,930.51L1819.0,930.33L1821.4,930.97L1824.0,931.24L1826.0,930.88L1827.8,930.06L1830.0,928.51L1831.7,927.05L1833.2,925.68L1834.5,923.85L1836.0,921.21L1836.9,919.20L1837.6,917.47L1838.2,915.74L1838.7,913.73L1839.3,911.45L1840.0,908.44L1840.6,906.07L1841.1,904.06L1841.6,902.15L1842.0,900.23L1842.4,898.22L1842.9,895.94L1843.4,893.30L1844.0,890.20L1844.5,887.64L1844.9,885.27L1845.3,883.17L1845.7,881.08L1846.0,879.07L1846.3,876.97L1846.7,874.78L1847.1,872.32L1847.5,869.58L1848.0,866.48L1848.4,863.84L1848.8,861.47L1849.1,859.19L1849.4,857.09L1849.6,855.08L1849.9,853.08L1850.2,851.07L1850.5,849.06L1850.8,846.87L1851.1,844.50L1851.5,841.95L1852.0,839.12L1852.5,836.38L1852.9,833.92L1853.3,831.82L1853.7,829.82L1854.1,827.99L1854.5,826.17L1854.9,824.35L1855.3,822.34L1855.7,820.24L1856.1,817.78L1856.5,814.95L1857.0,811.76L1857.4,809.11L1857.7,806.56L1858.0,804.19L1858.3,801.91L1858.5,799.63L1858.8,797.53L1859.0,795.34L1859.2,793.15L1859.4,790.96L1859.6,788.68L1859.9,786.31L1860.1,783.85L1860.4,781.20L1860.7,778.28L1861.0,775.27L1861.3,772.26L1861.6,769.44L1861.9,766.88L1862.2,764.51L1862.4,762.32L1862.7,760.13L1862.9,758.04L1863.1,756.03L1863.3,753.93L1863.6,751.74L1863.8,749.55L1864.1,747.18L1864.4,744.63L1864.7,741.80L1865.0,738.79L1865.3,735.78L1865.6,732.95L1865.9,730.40L1866.1,727.94L1866.4,725.66L1866.6,723.47L1866.8,721.28L1867.0,719.18L1867.2,717.08L1867.5,714.89L1867.7,712.71L1868.0,710.33L1868.3,707.87L1868.6,705.23L1869.0,702.31L1869.4,699.21L1869.8,696.47L1870.1,693.92L1870.4,691.55L1870.7,689.36L1871.0,687.35L1871.3,685.25L1871.6,683.34L1872.0,681.33L1872.3,679.23L1872.7,677.04L1873.1,674.76L1873.5,672.21L1874.0,669.47L1874.5,666.55L1875.0,663.91L1875.5,661.45L1875.9,659.26L1876.3,657.25L1876.7,655.24L1877.1,653.33L1877.5,651.41L1878.0,649.50L1878.4,647.40L1878.9,645.21L1879.4,642.93L1880.0,640.29L1880.7,637.28L1881.3,634.54L1881.8,631.99L1882.3,629.80L1882.8,627.61L1883.2,625.60L1883.7,623.59L1884.2,621.59L1884.7,619.49L1885.3,617.21L1886.0,614.75L1886.9,611.46L1887.7,608.82L1888.4,606.45L1889.0,604.44L1889.6,602.53L1890.3,600.70L1891.1,598.69L1892.0,596.51L1893.4,593.40L1894.5,591.40L1895.5,589.85L1896.6,588.02L1898.0,585.56L1899.2,583.19L1900.2,581.18L1901.1,579.36L1902.0,577.44L1902.9,575.35L1904.0,572.79L1905.0,570.24L1905.9,568.14L1906.6,566.22L1907.3,564.31L1908.0,562.30L1909.0,560.02L1910.2,557.47L1911.1,555.37L1912.0,553.64L1912.9,551.90L1914.0,549.99L1915.6,547.07L1916.8,545.15L1918.0,543.60L1920.0,542.69L1923.0,544.52L1923.8,546.07L1924.6,547.71L1925.3,549.62L1926.1,551.81L1927.0,554.55L1927.8,556.74L1928.4,558.65L1929.0,560.39L1929.6,562.30L1930.2,564.49L1931.0,567.32L1931.7,569.87L1932.2,572.06L1932.8,574.16L1933.2,576.26L1933.8,578.45L1934.3,580.91L1935.0,583.74L1935.7,586.47L1936.2,588.66L1936.8,590.58L1937.2,592.49L1937.8,594.50L1938.3,596.96L1939.0,600.15L1939.5,602.71L1940.0,605.08L1940.4,607.27L1940.8,609.27L1941.2,611.46L1941.6,613.65L1942.0,616.12L1942.5,618.85L1943.0,622.04L1943.4,624.69L1943.9,627.06L1944.2,629.25L1944.6,631.35L1944.9,633.35L1945.2,635.36L1945.6,637.46L1945.9,639.65L1946.2,642.02L1946.6,644.66L1947.0,647.58L1947.4,650.32L1947.7,652.78L1947.9,655.06L1948.2,657.16L1948.4,659.17L1948.6,661.08L1948.8,663.09L1949.0,665.09L1949.2,667.28L1949.4,669.56L1949.7,672.12L1950.0,674.95L1950.3,677.77L1950.6,680.24L1950.8,682.52L1951.1,684.70L1951.3,686.71L1951.5,688.63L1951.7,690.54L1951.9,692.55L1952.2,694.74L1952.4,697.02L1952.7,699.48L1953.0,702.31L1953.3,705.14L1953.6,707.60L1953.9,709.88L1954.1,712.07L1954.4,714.07L1954.6,715.99L1954.8,717.90L1955.0,719.91L1955.3,722.10L1955.5,724.38L1955.7,726.84L1956.0,729.67L1956.3,732.50L1956.5,734.96L1956.6,737.24L1956.8,739.43L1956.9,741.44L1957.1,743.35L1957.2,745.27L1957.3,747.27L1957.5,749.46L1957.6,751.74L1957.8,754.21L1958.0,757.03L1958.2,759.86L1958.4,762.41L1958.5,764.79L1958.7,766.97L1958.8,768.98L1958.9,770.99L1959.1,772.99L1959.2,775.00L1959.4,777.10L1959.5,779.38L1959.7,781.75L1960.0,784.40L1960.3,787.59L1960.7,790.69L1961.0,793.52L1961.3,796.16L1961.7,798.62L1962.0,800.90L1962.3,803.00L1962.5,804.92L1962.8,806.56L1963.0,808.11L1963.0,806.29L1963.1,807.84L1963.1,809.66L1963.2,811.85L1963.3,814.22L1963.4,816.77L1963.5,819.33L1963.7,821.97L1964.0,824.53L1964.4,827.54L1964.8,829.82L1965.3,831.82L1965.7,833.56L1966.3,835.29L1967.0,837.30L1968.3,840.58L1969.4,842.50L1971.0,844.59L1972.7,846.51L1974.3,847.69L1976.0,849.15L1978.1,851.07L1980.0,853.71L1981.1,855.81L1982.0,857.91L1982.9,860.19L1984.0,862.84L1985.1,865.39L1986.0,867.30L1986.9,869.31L1988.0,871.96L1988.9,874.24L1989.6,876.24L1990.2,877.88L1991.0,879.71L1992.0,881.99L1993.3,884.09L1994.4,885.82L1995.6,887.19L1997.0,889.47L1998.6,891.29L1999.9,892.93L2002.0,895.03L2004.0,895.67L2005.8,896.76L2007.7,898.04L2010.0,899.05L2012.3,899.96L2014.2,901.60L2016.0,902.97L2018.0,903.88L2020.3,905.16L2021.9,905.98L2024.0,907.07L2026.4,905.89L2028.5,904.43L2031.0,903.61L2033.4,903.79L2035.4,904.43L2038.0,904.97L2040.7,905.79L2042.9,906.62L2046.0,908.17L2048.2,909.90L2050.1,910.90L2051.9,912.09L2053.8,913.73L2056.0,915.19L2059.2,916.92L2061.6,917.29L2064.0,918.75L2065.8,918.11L2068.0,918.02L2069.8,920.11L2071.7,921.76L2073.7,923.76L2075.8,925.40L2078.0,927.68L2081.0,929.33L2083.3,930.42L2086.0,931.61L2088.3,932.06L2090.2,933.80L2092.0,934.34L2094.0,935.44L2096.3,937.90L2098.0,939.72L2100.0,941.55L2102.2,942.28L2104.0,943.65L2106.0,945.29L2107.8,947.29L2109.1,949.12L2111.0,951.58L2113.4,952.68L2115.6,954.50L2118.0,955.05L2120.7,955.23L2123.0,955.23L2124.8,956.32L2127.0,957.42L2129.6,956.51L2132.3,955.78L2135.0,954.41L2137.8,955.96L2140.0,958.70L2142.2,960.25L2144.0,960.88L2145.1,958.97L2145.8,957.15L2147.0,954.77L2148.6,953.41L2150.2,952.13L2152.0,950.85L2154.2,949.03L2156.0,947.84L2156.9,945.84L2157.5,943.65L2158.1,941.64L2159.0,939.54L2160.4,937.54L2161.7,936.08L2163.0,933.80L2163.7,931.15L2164.1,928.05L2164.4,925.59L2165.0,925.31L2165.6,926.23L2166.2,929.14L2166.8,932.34L2167.4,934.98L2168.0,936.08L2168.5,934.80L2168.8,933.07L2169.1,930.69L2169.4,927.78L2169.7,924.58L2170.0,921.21L2170.3,918.20L2170.5,915.10L2170.6,912.09L2170.8,909.44L2170.9,907.16L2171.2,905.61L2171.6,905.34L2172.1,905.70L2172.6,907.98L2173.0,911.08L2173.6,914.55L2174.2,917.10L2175.0,918.65L2176.1,917.74L2177.0,916.37L2178.0,913.64L2179.0,910.63L2180.0,908.71L2181.7,906.52L2183.0,903.88L2183.6,901.78L2184.1,899.50L2184.5,897.13L2184.9,894.58L2185.4,892.20L2186.0,890.11L2187.5,886.46L2189.0,885.27L2192.0,886.64L2192.4,884.82L2192.7,882.63L2192.9,880.07L2193.1,877.43L2193.5,874.69L2194.0,871.86L2194.9,868.95L2195.8,866.67L2196.8,865.02L2198.0,862.93L2199.4,860.28L2200.5,858.55L2202.0,857.00L2204.6,858.27L2207.0,858.73L2208.7,856.82L2210.0,854.90L2211.0,855.54L2211.8,857.73L2213.0,860.01L2215.0,861.56L2217.0,864.66L2217.7,866.57L2218.2,868.22L2218.7,870.04L2219.1,872.23L2219.5,874.60L2220.0,877.34L2220.4,879.89L2220.7,882.17L2221.0,884.18L2221.2,886.18L2221.4,888.37L2221.7,890.93L2222.0,893.85L2222.3,896.49L2222.6,898.77L2222.8,900.78L2223.0,902.78L2223.2,904.79L2223.4,906.89L2223.7,909.35L2224.0,912.09L2224.3,914.82L2224.6,917.10L2224.8,919.11L2225.0,921.03L2225.2,922.94L2225.4,925.13L2225.7,927.50L2226.0,930.33L2226.3,933.34L2226.5,935.98L2226.7,938.63L2226.9,941.00L2227.1,943.28L2227.4,945.65L2227.6,947.93L2228.0,950.40L2228.6,953.50L2229.2,955.41L2229.8,956.96L2230.4,958.79L2231.0,961.34L2231.4,963.99L2231.8,966.36L2232.0,968.64L2232.2,970.92L2232.6,973.29L2233.0,975.93L2233.6,979.22L2234.0,982.14L2234.5,984.51L2235.2,986.06L2236.0,986.97L2237.0,985.88L2237.9,983.23L2238.8,980.40L2239.7,977.39L2240.6,975.57L2241.8,977.85L2243.0,981.32L2245.4,981.59L2248.0,982.41L2249.2,984.33L2250.0,986.88L2250.8,989.52L2252.0,990.71L2253.8,989.16L2255.4,986.24L2257.0,985.15L2258.0,986.24L2258.6,988.06L2259.2,990.71L2260.0,994.08L2260.7,997.00L2261.3,1000.20L2261.8,1003.21L2262.4,1005.76L2263.0,1007.58L2263.6,1008.04L2264.1,1007.04L2264.5,1005.94L2264.8,1004.12L2265.1,1001.65L2265.3,998.55L2265.6,994.91L2266.0,990.53L2266.2,988.25L2266.4,986.06L2266.5,983.96L2266.7,981.86L2266.8,979.86L2266.9,977.76L2267.0,975.66L2267.1,973.47L2267.3,971.19L2267.4,968.82L2267.5,966.36L2267.7,963.62L2267.8,960.79L2268.0,957.69L2268.2,954.77L2268.3,952.13L2268.5,949.67L2268.6,947.29L2268.7,945.01L2268.8,942.92L2268.9,940.82L2269.1,938.72L2269.2,936.53L2269.3,934.34L2269.4,932.06L2269.5,929.60L2269.7,927.05L2269.8,924.22L2270.0,921.21L2270.2,918.20L2270.3,915.37L2270.5,912.73L2270.6,910.35L2270.7,908.07L2270.8,905.89L2270.9,903.70L2271.1,901.60L2271.2,899.50L2271.3,897.31L2271.4,895.12L2271.5,892.75L2271.7,890.29L2271.8,887.64L2272.0,884.73L2272.2,881.62L2272.3,878.80L2272.5,876.15L2272.6,873.69L2272.7,871.41L2272.8,869.22L2272.9,867.12L2273.0,865.12L2273.1,863.02L2273.2,860.92L2273.4,858.82L2273.6,856.72L2273.8,854.35L2274.0,851.80L2274.4,848.33L2274.8,845.51L2275.1,843.23L2275.5,841.40L2275.8,839.67L2276.2,837.84L2276.6,835.65L2277.0,833.10L2277.4,830.00L2277.7,827.54L2278.0,825.17L2278.2,823.16L2278.4,821.24L2278.6,819.33L2278.8,817.50L2279.0,815.50L2279.2,813.49L2279.3,811.30L2279.5,808.75L2279.8,805.92L2280.0,802.64L2280.2,799.90L2280.4,797.35L2280.6,794.88L2280.7,792.51L2280.9,790.23L2281.0,787.95L2281.2,785.67L2281.3,783.39L2281.4,781.20L2281.6,778.83L2281.7,776.46L2281.8,774.09L2281.9,771.63L2282.1,768.89L2282.2,766.15L2282.4,762.69L2282.5,759.50L2282.6,756.49L2282.7,753.66L2282.8,751.01L2282.9,748.55L2282.9,746.36L2283.0,744.17L2283.0,742.17L2283.1,740.34L2283.1,738.61L2283.2,736.78" fill="none" stroke="#0000ff" stroke-width="8.3" stroke-linejoin="round" stroke-linecap="butt"/></g>
<g clip-path="url(#clipL)"><path transform="scale(1,1.0843)" d="M247.6,1357.51C247.9,1353.08 248.3,1346.81 249.2,1337.22C250.1,1327.63 250.5,1321.64 251.6,1313.24C252.7,1304.85 253.0,1299.69 254.4,1298.49C255.8,1297.29 255.9,1306.60 258.0,1307.71C260.1,1308.82 261.0,1303.47 264.0,1303.65C267.0,1303.84 268.5,1307.99 272.0,1308.63C275.5,1309.28 276.3,1306.97 280.0,1306.79C283.7,1306.60 285.3,1306.79 289.0,1307.71C292.7,1308.63 293.3,1311.12 297.0,1311.03C300.7,1310.94 302.5,1307.71 306.0,1307.34C309.5,1306.97 310.0,1307.99 313.0,1309.19C316.0,1310.39 317.2,1314.35 320.0,1312.88C322.8,1311.40 323.4,1301.72 326.0,1302.18C328.6,1302.64 329.0,1313.06 332.0,1315.09C335.0,1317.12 336.5,1312.32 340.0,1311.40C343.5,1310.48 345.0,1311.40 348.0,1311.03C351.0,1310.66 351.4,1308.91 354.0,1309.56C356.6,1310.20 357.4,1317.58 360.0,1314.17C362.6,1310.75 364.1,1297.84 366.0,1293.88C367.9,1289.91 367.5,1289.08 369.0,1295.72C370.5,1302.36 371.1,1323.11 373.0,1324.31C374.9,1325.51 376.3,1306.05 378.0,1301.26C379.7,1296.46 379.1,1298.77 381.0,1302.18C382.9,1305.59 384.2,1316.29 387.0,1316.93C389.8,1317.58 391.2,1303.56 394.0,1304.94C396.8,1306.33 397.2,1323.76 400.0,1323.39C402.8,1323.02 404.8,1307.25 407.0,1303.10C409.2,1298.95 407.8,1301.07 410.0,1304.02C412.2,1306.97 413.5,1316.29 417.0,1316.93C420.5,1317.58 422.5,1306.97 426.0,1306.79C429.5,1306.60 430.0,1315.00 433.0,1316.01C436.0,1317.03 437.4,1312.05 440.0,1311.40C442.6,1310.75 442.8,1314.07 445.0,1312.88C447.2,1311.68 448.1,1309.00 450.0,1305.87C451.9,1302.73 451.6,1296.09 454.0,1298.49C456.4,1300.89 458.4,1315.92 461.0,1316.93C463.6,1317.95 463.6,1302.73 466.0,1303.10C468.4,1303.47 469.6,1317.95 472.0,1318.78C474.4,1319.61 474.2,1311.40 477.0,1306.79C479.8,1302.18 482.2,1297.57 485.0,1297.57C487.8,1297.57 487.8,1306.42 490.0,1306.79C492.2,1307.16 493.1,1301.26 495.0,1299.41C496.9,1297.57 497.1,1301.26 499.0,1298.49C500.9,1295.72 501.4,1283.92 503.6,1286.50C505.8,1289.08 506.3,1310.11 509.0,1310.48C511.7,1310.85 512.8,1288.99 516.0,1288.34C519.2,1287.70 520.8,1306.33 524.0,1307.71C527.2,1309.09 528.2,1298.95 531.0,1294.80C533.8,1290.65 534.2,1286.50 537.0,1288.34C539.8,1290.19 540.8,1303.93 544.0,1303.10C547.2,1302.27 548.5,1285.02 552.0,1284.66C555.5,1284.29 556.5,1302.09 560.0,1301.26C563.5,1300.43 564.3,1282.81 568.0,1280.97C571.7,1279.12 572.7,1294.15 577.0,1292.96C581.3,1291.76 584.1,1277.00 588.0,1275.43C591.9,1273.87 591.3,1287.42 595.0,1285.58C598.7,1283.73 601.4,1268.15 605.0,1267.13C608.6,1266.12 608.8,1280.32 611.6,1280.97C614.4,1281.61 614.7,1273.13 618.0,1269.90C621.3,1266.67 623.5,1268.98 627.0,1266.21C630.5,1263.44 629.5,1259.20 634.0,1256.99C638.5,1254.78 644.5,1256.44 648.0,1256.07C650.0,1255.70 648.0,1256.34 650.0,1255.14C652.0,1253.95 654.2,1251.18 657.0,1250.53C659.8,1249.89 660.4,1253.21 663.0,1252.38C665.6,1251.55 666.4,1247.03 669.0,1246.84C671.6,1246.66 672.2,1251.82 675.0,1251.46C677.8,1251.09 679.0,1245.65 682.0,1245.00C685.0,1244.35 685.3,1249.70 689.0,1248.69C692.7,1247.67 695.1,1241.22 699.0,1240.39C702.9,1239.56 704.0,1245.28 707.0,1245.00C710.0,1244.72 710.2,1238.91 713.0,1239.10C715.8,1239.28 716.8,1246.01 720.0,1245.92C723.2,1245.83 725.0,1238.54 728.0,1238.54C731.0,1238.54 731.4,1244.91 734.0,1245.92C736.6,1246.94 737.4,1242.79 740.0,1243.16C742.6,1243.52 743.6,1246.75 746.0,1247.77C748.4,1248.78 748.2,1246.38 751.0,1247.77C753.8,1249.15 756.2,1251.46 759.0,1254.22C761.8,1256.99 761.6,1259.85 764.0,1260.68C766.4,1261.51 767.6,1255.88 770.0,1257.91C772.4,1259.94 773.0,1266.67 775.0,1269.90C777.0,1273.13 777.0,1272.85 779.0,1272.67C781.0,1272.48 781.4,1269.35 784.0,1268.98C786.6,1268.61 788.8,1268.42 791.0,1270.82C793.2,1273.22 792.7,1274.42 794.0,1280.04C795.3,1285.67 795.9,1291.85 797.0,1296.64C798.1,1301.44 797.5,1301.16 799.0,1302.18C800.5,1303.19 802.0,1299.69 804.0,1301.26C806.0,1302.82 805.4,1308.73 808.0,1309.56C810.6,1310.39 813.0,1304.94 816.0,1304.94C819.0,1304.94 819.8,1307.71 822.0,1309.56C824.2,1311.40 824.0,1312.60 826.0,1313.24C828.0,1313.89 829.3,1309.09 831.0,1312.32C832.7,1315.55 832.7,1317.86 834.0,1328.00C835.3,1338.14 835.8,1348.57 837.0,1359.36C838.2,1370.15 838.6,1373.19 839.6,1377.80C840.6,1382.41 840.4,1382.60 841.6,1380.57C842.8,1378.54 843.6,1374.76 845.0,1368.58C846.4,1362.40 846.5,1357.79 848.0,1351.98C849.5,1346.17 849.8,1344.23 852.0,1341.83C854.2,1339.44 855.8,1342.48 858.0,1340.91C860.2,1339.34 860.3,1334.09 862.0,1334.46C863.7,1334.82 864.5,1339.16 866.0,1342.76C867.5,1346.35 867.0,1350.41 869.0,1351.06C871.0,1351.70 872.8,1346.17 875.0,1345.52C877.2,1344.88 877.5,1345.34 879.0,1348.29C880.5,1351.24 880.7,1355.94 882.0,1359.36C883.3,1362.77 883.5,1365.17 885.0,1363.97C886.5,1362.77 886.8,1357.60 889.0,1353.82C891.2,1350.04 893.0,1352.07 895.0,1346.44C897.0,1340.82 896.9,1337.22 898.0,1328.00C899.1,1318.78 898.9,1315.18 900.0,1304.02C901.1,1292.86 901.7,1287.98 903.0,1276.36C904.3,1264.74 904.9,1262.15 906.0,1250.53C907.1,1238.91 907.4,1234.03 908.0,1222.87C908.6,1211.71 908.3,1207.28 908.6,1198.89C908.9,1190.50 909.1,1194.19 909.6,1184.23C910.1,1174.27 910.4,1166.43 911.0,1152.87C911.6,1139.31 911.6,1135.16 912.3,1121.51C913.0,1107.87 913.5,1102.33 914.4,1090.07C915.3,1077.80 915.5,1074.48 916.4,1064.98C917.3,1055.48 917.4,1053.55 918.4,1046.17C919.4,1038.79 920.1,1036.39 921.2,1031.14C922.3,1025.88 922.7,1024.31 923.6,1021.73C924.5,1019.15 924.4,1019.06 925.2,1019.24C926.0,1019.42 926.4,1019.24 927.1,1022.38C927.8,1025.51 928.0,1027.08 928.6,1033.63C929.2,1040.17 929.4,1042.94 930.0,1052.44C930.6,1061.94 930.8,1066.64 931.4,1077.52C932.0,1088.41 932.1,1091.73 932.7,1102.61C933.3,1113.49 933.4,1116.90 934.1,1127.79C934.8,1138.67 935.2,1141.99 936.1,1152.87C937.0,1163.75 937.4,1167.99 938.2,1177.95C939.0,1187.91 939.5,1189.94 939.9,1198.89C940.0,1207.83 939.9,1209.22 940.0,1219.18C940.5,1229.14 940.9,1233.38 942.0,1245.00C943.1,1256.62 943.7,1261.88 945.0,1272.67C946.3,1283.46 946.7,1286.78 948.0,1294.80C949.3,1302.82 949.5,1304.39 951.0,1309.56C952.5,1314.72 952.6,1314.81 955.0,1318.78C957.4,1322.74 959.2,1326.16 962.0,1328.00C964.8,1329.84 965.6,1324.86 968.0,1327.08C970.4,1329.29 971.0,1334.92 973.0,1338.14C975.0,1341.37 975.0,1341.19 977.0,1341.83C979.0,1342.48 979.6,1339.90 982.0,1340.91C984.4,1341.93 985.6,1345.43 988.0,1346.44C990.4,1347.46 990.6,1345.34 993.0,1345.52C995.4,1345.71 995.8,1347.18 999.0,1347.37C1002.2,1347.55 1004.5,1347.83 1008.0,1346.44C1011.5,1345.06 1012.0,1341.93 1015.0,1340.91C1018.0,1339.90 1018.5,1340.27 1022.0,1341.83C1025.5,1343.40 1027.8,1347.64 1031.0,1348.29C1034.2,1348.93 1034.6,1344.23 1037.0,1344.60C1039.4,1344.97 1039.7,1347.37 1042.0,1350.13C1044.3,1352.90 1045.4,1358.71 1047.6,1357.51C1049.8,1356.31 1050.0,1347.83 1052.0,1344.60C1054.0,1341.37 1054.8,1342.76 1057.0,1342.76C1059.2,1342.76 1060.5,1344.78 1062.0,1344.60C1063.5,1344.42 1062.5,1341.46 1064.0,1341.83C1065.5,1342.20 1067.0,1347.46 1069.0,1346.44C1071.0,1345.43 1071.5,1339.62 1073.0,1337.22C1074.5,1334.82 1074.3,1334.18 1076.0,1335.38C1077.7,1336.58 1078.0,1340.82 1081.0,1342.76C1084.0,1344.69 1085.9,1343.40 1090.0,1344.23C1094.1,1345.06 1096.3,1346.54 1100.0,1346.44C1103.7,1346.35 1104.0,1342.66 1107.0,1343.68C1110.0,1344.69 1111.2,1349.67 1114.0,1351.06C1116.8,1352.44 1117.6,1348.75 1120.0,1350.13C1122.4,1351.52 1123.3,1354.93 1125.0,1357.51C1126.7,1360.09 1126.5,1362.95 1128.0,1362.12C1129.5,1361.29 1130.4,1356.77 1132.0,1353.82C1133.6,1350.87 1133.4,1346.72 1135.6,1348.29C1137.8,1349.86 1139.7,1357.97 1142.0,1361.20C1144.3,1364.43 1143.8,1364.61 1146.0,1363.04C1148.2,1361.48 1149.4,1357.97 1152.0,1353.82C1154.6,1349.67 1155.4,1347.83 1158.0,1343.68C1160.6,1339.53 1161.4,1335.29 1164.0,1334.46C1166.6,1333.63 1167.4,1341.37 1170.0,1339.99C1172.6,1338.61 1173.8,1331.23 1176.0,1328.00C1178.2,1324.77 1178.0,1325.42 1180.0,1325.23C1182.0,1325.05 1182.8,1330.67 1185.0,1327.08C1187.2,1323.48 1187.6,1313.24 1190.0,1308.63C1192.4,1304.02 1193.6,1307.07 1196.0,1305.87C1198.4,1304.67 1199.0,1303.10 1201.0,1303.10C1203.0,1303.10 1203.3,1303.47 1205.0,1305.87C1206.7,1308.26 1206.6,1311.58 1209.0,1314.17C1211.4,1316.75 1213.0,1318.04 1216.0,1317.86C1219.0,1317.67 1220.0,1313.24 1223.0,1313.24C1226.0,1313.24 1226.3,1315.83 1230.0,1317.86C1233.7,1319.88 1236.9,1321.91 1240.0,1322.47C1243.1,1323.02 1242.7,1321.54 1244.4,1320.25C1246.1,1318.96 1246.6,1317.76 1248.0,1316.56C1249.4,1315.37 1250.3,1315.09 1251.0,1314.72" fill="none" stroke="#000" stroke-width="8.3" stroke-linejoin="round" stroke-linecap="butt"/></g>
<g clip-path="url(#clipR)"><path transform="scale(1,1.0723)" d="M1278.0,1317.83C1278.9,1318.11 1279.0,1318.11 1282.0,1319.05C1285.0,1319.98 1288.1,1321.19 1292.0,1322.03C1295.9,1322.87 1296.5,1322.12 1300.0,1322.78C1303.5,1323.43 1304.8,1323.71 1308.0,1325.20C1311.2,1326.69 1312.0,1328.09 1315.0,1329.49C1318.0,1330.89 1317.9,1330.42 1322.0,1331.73C1326.1,1333.04 1330.1,1333.88 1334.0,1335.46C1337.9,1337.05 1337.0,1338.17 1340.0,1339.19C1343.0,1340.22 1345.0,1339.94 1348.0,1340.12C1351.0,1340.31 1351.4,1339.10 1354.0,1340.12C1356.6,1341.15 1357.0,1343.95 1360.0,1344.79C1363.0,1345.63 1365.2,1342.64 1368.0,1343.85C1370.8,1345.07 1369.8,1349.17 1373.0,1350.38C1376.2,1351.59 1379.8,1348.05 1383.0,1349.45C1386.2,1350.85 1385.6,1356.07 1388.0,1356.91C1390.4,1357.75 1391.4,1352.34 1394.0,1353.18C1396.6,1354.02 1397.4,1359.43 1400.0,1360.64C1402.6,1361.85 1402.1,1357.94 1406.0,1358.78C1409.9,1359.61 1414.1,1361.76 1418.0,1364.37C1421.9,1366.98 1421.2,1369.87 1424.0,1370.90C1426.8,1371.92 1428.2,1367.45 1431.0,1369.03C1433.8,1370.62 1433.8,1375.93 1437.0,1378.36C1440.2,1380.78 1442.3,1378.83 1446.0,1380.22C1449.7,1381.62 1451.6,1384.23 1454.0,1384.89C1456.4,1385.54 1455.3,1380.78 1457.0,1383.02C1458.7,1385.26 1459.6,1394.12 1462.0,1395.15C1464.4,1396.17 1466.3,1388.90 1468.0,1387.69C1469.7,1386.47 1468.7,1387.50 1470.0,1389.55C1471.3,1391.60 1472.0,1396.36 1474.0,1397.01C1476.0,1397.66 1476.8,1390.30 1479.0,1392.35C1481.2,1394.40 1481.6,1405.50 1484.0,1406.34C1486.4,1407.18 1487.6,1395.43 1490.0,1396.08C1492.4,1396.73 1492.8,1406.52 1495.0,1409.13C1497.2,1411.75 1497.8,1405.22 1500.0,1408.20C1502.2,1411.19 1502.6,1420.51 1505.0,1423.12C1507.4,1425.73 1508.8,1417.53 1511.0,1420.33C1513.2,1423.12 1513.0,1426.67 1515.0,1436.18C1517.0,1445.69 1518.1,1454.27 1520.0,1464.16C1521.9,1474.04 1522.3,1479.08 1523.6,1481.88C1524.9,1484.67 1524.8,1485.14 1526.0,1477.21C1527.2,1469.29 1527.7,1456.42 1529.0,1445.51C1530.3,1434.59 1530.3,1435.71 1532.0,1426.85C1533.7,1417.99 1535.0,1412.96 1537.0,1404.47C1539.0,1395.99 1539.3,1391.70 1541.0,1387.69C1542.7,1383.68 1543.3,1383.40 1545.0,1385.82C1546.7,1388.24 1547.5,1391.23 1549.0,1398.88C1550.5,1406.52 1550.7,1409.97 1552.0,1421.26C1553.3,1432.54 1553.9,1441.59 1555.0,1451.10C1556.1,1460.61 1555.9,1463.50 1557.0,1465.09C1558.1,1466.68 1558.7,1466.49 1560.0,1458.56C1561.3,1450.63 1561.7,1437.58 1563.0,1428.72C1564.3,1419.86 1564.5,1420.79 1566.0,1417.53C1567.5,1414.26 1568.5,1417.81 1570.0,1413.80C1571.5,1409.79 1571.7,1404.75 1573.0,1398.88C1574.3,1393.00 1574.5,1388.62 1576.0,1386.75C1577.5,1384.89 1577.8,1388.06 1580.0,1390.48C1582.2,1392.91 1583.8,1390.86 1586.0,1397.94C1588.2,1405.03 1588.3,1417.06 1590.0,1423.12C1591.7,1429.19 1592.0,1425.73 1594.0,1425.92C1596.0,1426.11 1597.0,1422.19 1599.0,1424.06C1601.0,1425.92 1601.0,1432.73 1603.0,1434.31C1605.0,1435.90 1605.8,1428.72 1608.0,1431.52C1610.2,1434.31 1610.6,1443.73 1613.0,1447.37C1615.4,1451.01 1616.4,1446.72 1619.0,1448.30C1621.6,1449.89 1622.4,1454.83 1625.0,1454.83C1627.6,1454.83 1628.6,1446.25 1631.0,1448.30C1633.4,1450.36 1633.5,1464.53 1636.0,1464.16C1638.5,1463.78 1640.2,1447.65 1642.4,1446.44C1644.6,1445.23 1644.4,1452.69 1646.0,1458.56C1647.6,1464.44 1648.5,1469.85 1650.0,1473.48C1651.5,1477.12 1651.5,1476.75 1653.0,1475.35C1654.5,1473.95 1655.0,1468.17 1657.0,1466.96C1659.0,1465.74 1659.8,1469.57 1662.0,1469.75C1664.2,1469.94 1664.8,1466.68 1667.0,1467.89C1669.2,1469.10 1670.0,1471.34 1672.0,1475.35C1674.0,1479.36 1674.6,1481.69 1676.0,1486.54C1677.4,1491.39 1677.3,1498.10 1678.6,1497.73C1679.9,1497.36 1680.6,1490.74 1682.0,1484.67C1683.4,1478.61 1683.5,1473.58 1685.0,1469.75C1686.5,1465.93 1687.5,1470.22 1689.0,1466.96C1690.5,1463.69 1690.5,1461.73 1692.0,1454.83C1693.5,1447.93 1694.0,1436.65 1696.0,1435.25C1698.0,1433.85 1698.6,1448.30 1701.0,1448.30C1703.4,1448.30 1704.6,1438.23 1707.0,1435.25C1709.4,1432.26 1709.8,1433.29 1712.0,1434.31C1714.2,1435.34 1714.6,1440.28 1717.0,1439.91C1719.4,1439.54 1720.6,1432.82 1723.0,1432.45C1725.4,1432.08 1725.6,1434.03 1728.0,1438.04C1730.4,1442.06 1731.6,1445.04 1734.0,1451.10C1736.4,1457.16 1736.8,1457.16 1739.0,1466.02C1741.2,1474.88 1742.1,1483.46 1744.0,1492.13C1745.9,1500.81 1746.1,1504.91 1747.6,1506.12C1749.1,1507.34 1749.6,1505.66 1751.0,1497.73C1752.4,1489.80 1752.7,1479.82 1754.0,1469.75C1755.3,1459.68 1755.3,1455.30 1757.0,1451.10C1758.7,1446.90 1759.6,1451.01 1762.0,1450.17C1764.4,1449.33 1764.5,1447.74 1768.0,1447.37C1771.5,1447.00 1773.9,1447.09 1778.0,1448.30C1782.1,1449.52 1783.5,1450.91 1787.0,1452.97C1790.5,1455.02 1791.8,1455.02 1794.0,1457.63C1796.2,1460.24 1795.7,1462.76 1797.0,1465.09C1798.3,1467.42 1798.7,1468.26 1800.0,1468.26C1801.3,1468.26 1801.5,1468.17 1803.0,1465.09C1804.5,1462.01 1805.3,1457.54 1807.0,1453.90C1808.7,1450.26 1809.5,1452.50 1811.0,1448.30C1812.5,1444.11 1812.7,1441.03 1814.0,1434.31C1815.3,1427.60 1815.7,1423.59 1817.0,1417.53C1818.3,1411.47 1818.3,1411.19 1820.0,1406.34C1821.7,1401.49 1822.8,1400.18 1825.0,1395.15C1827.2,1390.11 1827.8,1389.08 1830.0,1383.02C1832.2,1376.96 1833.0,1372.20 1835.0,1367.17C1837.0,1362.13 1837.0,1362.13 1839.0,1359.71C1841.0,1357.28 1842.3,1358.78 1844.0,1355.98C1845.7,1353.18 1845.7,1352.34 1847.0,1346.65C1848.3,1340.96 1848.7,1335.93 1850.0,1329.87C1851.3,1323.80 1851.5,1323.52 1853.0,1318.67C1854.5,1313.82 1855.3,1312.33 1857.0,1307.48C1858.7,1302.63 1859.5,1301.14 1861.0,1296.29C1862.5,1291.44 1862.7,1290.79 1864.0,1285.10C1865.3,1279.41 1865.7,1275.22 1867.0,1270.18C1868.3,1265.14 1868.7,1264.21 1870.0,1261.79C1871.3,1259.36 1871.7,1259.18 1873.0,1258.99C1874.3,1258.80 1874.7,1258.80 1876.0,1260.85C1877.3,1262.91 1877.7,1263.84 1879.0,1268.31C1880.3,1272.79 1880.9,1275.31 1882.0,1281.37C1883.1,1287.43 1883.1,1286.97 1884.0,1296.29C1884.9,1305.62 1885.1,1312.15 1886.0,1324.27C1886.9,1336.39 1887.1,1340.96 1888.0,1352.25C1888.9,1363.53 1889.1,1367.63 1890.0,1376.49C1890.9,1385.35 1890.9,1386.01 1892.0,1393.28C1893.1,1400.56 1893.7,1401.58 1895.0,1410.07C1896.3,1418.55 1896.9,1425.73 1898.0,1432.45C1899.1,1439.16 1898.9,1435.99 1900.0,1440.84C1901.1,1445.69 1901.9,1449.42 1903.0,1454.83C1904.1,1460.24 1903.9,1466.02 1905.0,1466.02C1906.1,1466.02 1906.7,1459.68 1908.0,1454.83C1909.3,1449.98 1909.8,1445.23 1911.0,1443.64C1912.2,1442.06 1912.5,1440.10 1913.6,1447.37C1914.7,1454.64 1915.1,1468.54 1916.0,1477.21C1916.9,1485.89 1916.7,1492.32 1917.6,1487.47C1918.5,1482.62 1919.0,1468.82 1920.0,1454.83C1921.0,1440.84 1921.3,1423.12 1922.4,1423.12C1923.5,1423.12 1923.9,1440.28 1925.0,1454.83C1926.1,1469.38 1926.5,1486.26 1927.6,1490.27C1928.7,1494.28 1929.0,1489.24 1930.0,1473.48C1931.0,1457.72 1931.2,1437.77 1932.0,1417.53C1932.8,1397.29 1932.8,1390.48 1933.6,1380.22C1934.4,1369.97 1934.6,1370.34 1935.6,1369.97C1936.6,1369.59 1937.0,1374.91 1938.0,1378.36C1939.0,1381.81 1938.7,1383.40 1940.0,1385.82C1941.3,1388.24 1941.8,1388.15 1944.0,1389.55C1946.2,1390.95 1947.4,1391.98 1950.0,1392.35C1952.6,1392.72 1953.8,1391.42 1956.0,1391.42C1958.2,1391.42 1957.8,1393.56 1960.0,1392.35C1962.2,1391.14 1963.6,1386.47 1966.0,1385.82C1968.4,1385.17 1968.6,1389.18 1971.0,1389.55C1973.4,1389.92 1974.2,1387.31 1977.0,1387.69C1979.8,1388.06 1980.8,1389.18 1984.0,1391.42C1987.2,1393.65 1989.0,1394.49 1992.0,1397.94C1995.0,1401.39 1995.4,1405.22 1998.0,1407.27C2000.6,1409.32 2002.0,1408.30 2004.0,1407.27C2006.0,1406.24 2005.9,1406.43 2007.0,1402.61C2008.1,1398.78 2007.9,1393.19 2009.0,1389.55C2010.1,1385.91 2010.3,1383.96 2012.0,1385.82C2013.7,1387.69 2015.3,1397.94 2017.0,1397.94C2018.7,1397.94 2018.8,1389.08 2020.0,1385.82C2021.2,1382.56 2021.1,1381.44 2022.4,1383.02C2023.7,1384.61 2024.4,1388.43 2026.0,1393.28C2027.6,1398.13 2028.0,1401.58 2030.0,1405.40C2032.0,1409.23 2032.4,1409.79 2035.0,1411.00C2037.6,1412.21 2039.0,1411.65 2042.0,1411.00C2045.0,1410.35 2045.5,1410.07 2049.0,1408.20C2052.5,1406.34 2054.8,1406.24 2058.0,1402.61C2061.2,1398.97 2061.4,1395.05 2064.0,1391.42C2066.6,1387.78 2067.8,1386.85 2070.0,1385.82C2072.2,1384.79 2072.3,1384.70 2074.0,1386.75C2075.7,1388.80 2076.3,1391.32 2078.0,1395.15C2079.7,1398.97 2080.5,1404.84 2082.0,1404.47C2083.5,1404.10 2083.7,1398.97 2085.0,1393.28C2086.3,1387.59 2085.8,1382.37 2088.0,1378.36C2090.2,1374.35 2092.4,1376.49 2095.0,1374.63C2097.6,1372.76 2097.2,1372.20 2100.0,1369.97C2102.8,1367.73 2104.5,1366.61 2108.0,1364.37C2111.5,1362.13 2113.0,1361.57 2116.0,1359.71C2119.0,1357.84 2119.8,1355.98 2122.0,1355.98C2124.2,1355.98 2123.8,1356.07 2126.0,1359.71C2128.2,1363.34 2129.4,1367.91 2132.0,1372.76C2134.6,1377.61 2135.6,1379.48 2138.0,1382.09C2140.4,1384.70 2140.8,1386.10 2143.0,1384.89C2145.2,1383.68 2145.6,1379.94 2148.0,1376.49C2150.4,1373.04 2151.6,1371.09 2154.0,1369.03C2156.4,1366.98 2156.8,1366.33 2159.0,1367.17C2161.2,1368.01 2161.8,1371.55 2164.0,1372.76C2166.2,1373.98 2167.2,1370.71 2169.0,1372.76C2170.8,1374.82 2171.1,1384.33 2172.4,1382.09C2173.7,1379.85 2173.9,1372.48 2175.0,1362.51C2176.1,1352.53 2176.1,1346.47 2177.4,1335.83C2178.7,1325.20 2178.7,1321.38 2181.0,1313.64C2183.3,1305.90 2185.5,1308.04 2188.1,1300.30C2190.7,1292.56 2191.1,1288.74 2192.9,1278.11C2194.7,1267.48 2195.1,1264.40 2196.4,1251.43C2197.7,1238.47 2197.9,1232.60 2198.8,1218.14C2199.7,1203.69 2199.7,1199.30 2200.5,1184.85C2201.3,1170.39 2201.5,1161.44 2202.4,1151.56C2203.3,1141.67 2203.5,1139.80 2204.8,1139.34C2206.1,1138.87 2207.0,1143.35 2208.3,1149.32C2209.6,1155.29 2209.7,1156.96 2210.7,1167.04C2211.7,1177.11 2212.2,1182.42 2213.1,1195.95C2214.0,1209.47 2214.0,1216.28 2214.8,1229.24C2215.6,1242.20 2215.9,1247.98 2216.7,1255.91C2217.5,1263.84 2217.6,1266.36 2218.6,1265.89C2219.6,1265.42 2219.5,1256.84 2221.4,1253.67C2223.3,1250.50 2224.8,1252.93 2227.4,1251.43C2230.0,1249.94 2231.2,1250.60 2233.3,1246.96C2235.4,1243.32 2234.8,1238.10 2236.9,1234.74C2239.0,1231.38 2240.1,1233.16 2242.9,1231.48C2245.7,1229.80 2246.7,1228.21 2250.0,1227.00C2253.3,1225.79 2255.7,1229.05 2258.3,1225.88C2260.9,1222.71 2260.3,1215.90 2261.9,1212.55C2263.5,1209.19 2264.0,1209.66 2265.5,1210.40C2267.0,1211.15 2266.9,1215.72 2269.0,1215.90C2271.1,1216.09 2272.5,1211.43 2275.0,1211.43C2277.5,1211.43 2278.7,1214.41 2280.5,1215.90C2282.3,1217.40 2282.8,1217.86 2283.5,1218.33" fill="none" stroke="#000" stroke-width="8.3" stroke-linejoin="round" stroke-linecap="butt"/></g>
<g fill="none" stroke="#000" stroke-width="5.6" stroke-linecap="round">
<path d="M247.9,1698.5 V31.7 H2281.8 V1698.5" stroke-linejoin="round"/>
<path d="M247.9,1666.8 H1247.3 M1282.3,1666.8 H2281.8" stroke-linecap="butt"/>
<path d="M1229.5,1698.8 L1264.9,1634.6 M1264.7,1698.8 L1300.1,1634.6"/>
<path d="M664.0,1669.6 V1698.5"/>
<path d="M1080.5,1669.6 V1698.5"/>
<path d="M1282.3,1669.6 V1698.5"/>
<path d="M1615.3,1669.6 V1698.5"/>
<path d="M1948.4,1669.6 V1698.5"/>
<path d="M456.0,1669.6 V1682.6"/>
<path d="M872.3,1669.6 V1682.6"/>
<path d="M1448.8,1669.6 V1682.6"/>
<path d="M1781.9,1669.6 V1682.6"/>
<path d="M2115.0,1669.6 V1682.6"/>
<path d="M245.1,82.6 H215.9"/>
<path d="M245.1,338.1 H232.4"/>
<path d="M245.1,593.7 H215.9"/>
<path d="M245.1,849.2 H232.4"/>
<path d="M245.1,1104.7 H215.9"/>
<path d="M245.1,1360.3 H232.4"/>
<path d="M245.1,1615.8 H215.9"/>
</g>
<path d="M2190.3,199.5 V283.5" stroke="#000" stroke-width="2.3" stroke-linecap="round" fill="none"/><path d="M2190.3,158.5 L2201.2,199.5 H2179.4 Z" fill="#000" stroke="#000" stroke-width="1" stroke-linejoin="round"/>
<path d="M2222.7,157 V230.5" stroke="#000" stroke-width="2.3" stroke-linecap="round" fill="none"/><path d="M2222.7,116 L2233.6,157 H2211.8 Z" fill="#000" stroke="#000" stroke-width="1" stroke-linejoin="round"/>
<path d="M2206.6,801.2 V923" stroke="#000" stroke-width="2.3" stroke-linecap="round" fill="none"/><path d="M2206.6,760.5 L2217.5,801.2 H2195.7 Z" fill="#000" stroke="#000" stroke-width="1" stroke-linejoin="round"/>
<path d="M2206.4,1150.5 V1202.3" stroke="#000" stroke-width="2.3" stroke-linecap="round" fill="none"/><path d="M2206.4,1110.2 L2217.3,1150.5 H2195.5 Z" fill="#000" stroke="#000" stroke-width="1" stroke-linejoin="round"/>
<g font-family="Liberation Sans, Arial, sans-serif" fill="#000">
<text transform="translate(248.3,1787.3) scale(0.9828,1)" font-size="86.5" text-anchor="middle">4000</text>
<text transform="translate(664,1787.3) scale(0.9828,1)" font-size="86.5" text-anchor="middle">3500</text>
<text transform="translate(1080.5,1787.3) scale(0.9828,1)" font-size="86.5" text-anchor="middle">3000</text>
<text transform="translate(1282.3,1787.3) scale(0.9828,1)" font-size="86.5" text-anchor="middle">2000</text>
<text transform="translate(1615.3,1787.3) scale(0.9828,1)" font-size="86.5" text-anchor="middle">1500</text>
<text transform="translate(1948.4,1787.3) scale(0.9828,1)" font-size="86.5" text-anchor="middle">1000</text>
<text transform="translate(2281.6,1787.3) scale(0.9828,1)" font-size="86.5" text-anchor="middle">500</text>
<text transform="translate(858.14,1948.1) scale(0.958,1)" font-size="97.5"><tspan x="0" y="0">Wavenumber (cm</tspan><tspan x="765.2" y="-47.7" font-size="58.5">-1</tspan><tspan x="821.4" y="0">)</tspan></text>
<text transform="translate(96.9,1179.3) rotate(-90) translate(-0.95,0) scale(0.9725,1)" font-size="95">Absorbance (a.u.)</text>
<text transform="translate(271.1,645.5) scale(0.9893,1)" font-size="86">After release for 7 days</text>
<text transform="translate(264.5,1065.1) scale(0.9908,1)" font-size="86">After loading GS for 2h</text>
<text transform="translate(285.0,1556.7) scale(0.9966,1)" font-size="86">GS</text>
</g>
</svg>
</body></html>
